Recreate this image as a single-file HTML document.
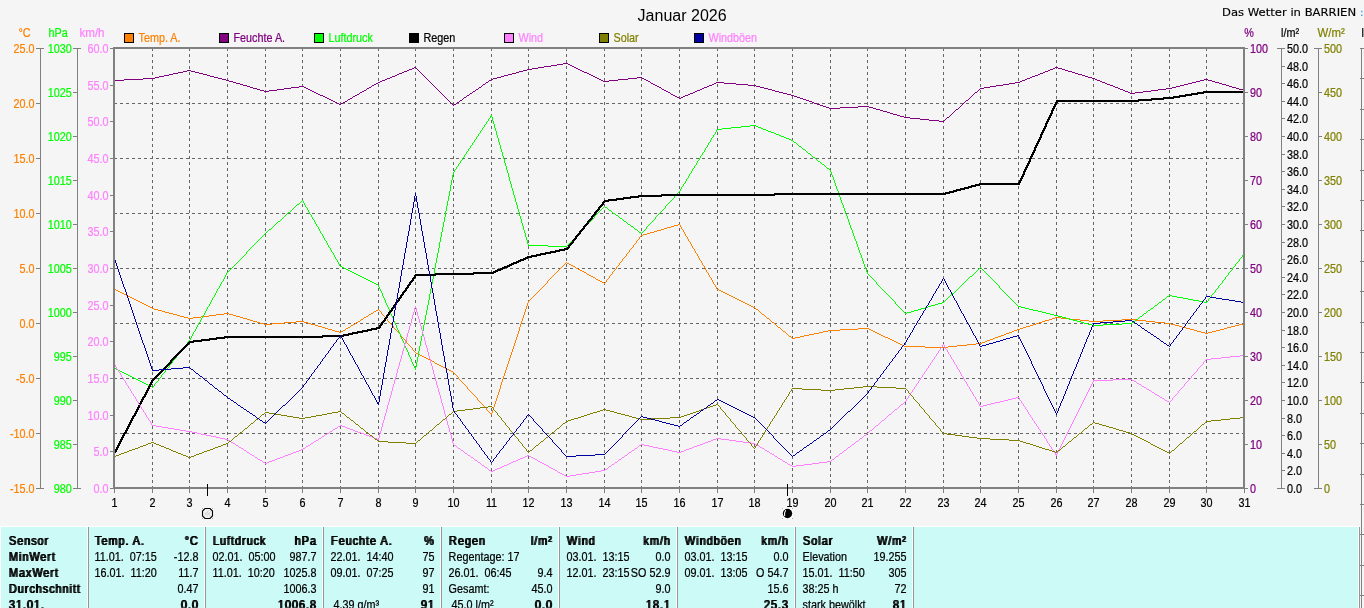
<!DOCTYPE html>
<html lang="de"><head><meta charset="utf-8"><title>Januar 2026 - Das Wetter in BARRIEN</title>
<style>
html,body{margin:0;padding:0;background:#f5f5f5;overflow:hidden;}
svg{display:block;will-change:transform;}
text{font-family:"Liberation Sans",Arial,sans-serif;white-space:pre;}
</style></head><body>
<svg width="1364" height="608" viewBox="0 0 1364 608" font-family="'Liberation Sans', Arial, sans-serif" font-size="12">
<defs><filter id="sb" x="-5%" y="-20%" width="110%" height="140%"><feOffset dx="1.05" dy="0" result="o"/><feMerge><feMergeNode in="SourceGraphic"/><feMergeNode in="o"/></feMerge></filter></defs>
<rect width="1364" height="608" fill="#f5f5f5"/>
<g stroke="#666666" stroke-width="1" stroke-dasharray="3 3" shape-rendering="crispEdges" fill="none">
<line x1="152.50" y1="48" x2="152.50" y2="487"/>
<line x1="189.50" y1="48" x2="189.50" y2="487"/>
<line x1="227.50" y1="48" x2="227.50" y2="487"/>
<line x1="265.50" y1="48" x2="265.50" y2="487"/>
<line x1="302.50" y1="48" x2="302.50" y2="487"/>
<line x1="340.50" y1="48" x2="340.50" y2="487"/>
<line x1="378.50" y1="48" x2="378.50" y2="487"/>
<line x1="415.50" y1="48" x2="415.50" y2="487"/>
<line x1="453.50" y1="48" x2="453.50" y2="487"/>
<line x1="491.50" y1="48" x2="491.50" y2="487"/>
<line x1="528.50" y1="48" x2="528.50" y2="487"/>
<line x1="566.50" y1="48" x2="566.50" y2="487"/>
<line x1="604.50" y1="48" x2="604.50" y2="487"/>
<line x1="641.50" y1="48" x2="641.50" y2="487"/>
<line x1="679.50" y1="48" x2="679.50" y2="487"/>
<line x1="717.50" y1="48" x2="717.50" y2="487"/>
<line x1="754.50" y1="48" x2="754.50" y2="487"/>
<line x1="792.50" y1="48" x2="792.50" y2="487"/>
<line x1="830.50" y1="48" x2="830.50" y2="487"/>
<line x1="867.50" y1="48" x2="867.50" y2="487"/>
<line x1="905.50" y1="48" x2="905.50" y2="487"/>
<line x1="943.50" y1="48" x2="943.50" y2="487"/>
<line x1="980.50" y1="48" x2="980.50" y2="487"/>
<line x1="1018.50" y1="48" x2="1018.50" y2="487"/>
<line x1="1056.50" y1="48" x2="1056.50" y2="487"/>
<line x1="1093.50" y1="48" x2="1093.50" y2="487"/>
<line x1="1131.50" y1="48" x2="1131.50" y2="487"/>
<line x1="1169.50" y1="48" x2="1169.50" y2="487"/>
<line x1="1206.50" y1="48" x2="1206.50" y2="487"/>
<line x1="114" y1="103.5" x2="1243" y2="103.5"/>
<line x1="114" y1="158.5" x2="1243" y2="158.5"/>
<line x1="114" y1="213.5" x2="1243" y2="213.5"/>
<line x1="114" y1="268.5" x2="1243" y2="268.5"/>
<line x1="114" y1="323.5" x2="1243" y2="323.5"/>
<line x1="114" y1="378.5" x2="1243" y2="378.5"/>
<line x1="114" y1="433.5" x2="1243" y2="433.5"/>
</g>
<path d="M678 224.5h2M674 225.5h4M671 226.5h3M667 227.5h4M664 228.5h3M661 229.5h3M657 230.5h4M654 231.5h3M650 232.5h4M647 233.5h3M643 234.5h4M641 235.5h2M567 263.5h2M569 264.5h2M571 265.5h2M573 266.5h2M576 268.5h2M578 269.5h2M580 270.5h2M582 271.5h2M584 272.5h2M587 274.5h2M589 275.5h2M591 276.5h2M593 277.5h2M596 279.5h2M598 280.5h2M600 281.5h2M602 282.5h2M114 289.5h2M717 289.5h2M116 290.5h2M719 290.5h2M118 291.5h2M721 291.5h2M120 292.5h2M723 292.5h2M122 293.5h2M725 293.5h2M124 294.5h2M727 294.5h2M126 295.5h2M729 295.5h2M128 296.5h2M731 296.5h2M130 297.5h2M733 297.5h2M132 298.5h2M735 298.5h2M134 299.5h2M737 299.5h2M136 300.5h2M739 300.5h2M138 301.5h2M741 301.5h2M140 302.5h2M743 302.5h2M142 303.5h2M745 303.5h2M144 304.5h2M747 304.5h2M146 305.5h2M749 305.5h2M148 306.5h2M751 306.5h2M150 307.5h2M753 307.5h2M152 308.5h2M154 309.5h4M756 309.5h2M158 310.5h4M376 310.5h2M162 311.5h3M374 311.5h2M165 312.5h4M169 313.5h4M224 313.5h5M371 313.5h2M173 314.5h4M216 314.5h8M229 314.5h4M369 314.5h2M762 314.5h2M177 315.5h3M209 315.5h7M233 315.5h3M180 316.5h4M201 316.5h8M236 316.5h4M366 316.5h2M184 317.5h4M193 317.5h8M240 317.5h3M364 317.5h2M1055 317.5h6M188 318.5h5M243 318.5h4M767 318.5h2M1052 318.5h3M1061 318.5h9M247 319.5h3M361 319.5h2M1049 319.5h3M1070 319.5h10M1122 319.5h14M250 320.5h3M1045 320.5h4M1080 320.5h9M1103 320.5h19M1136 320.5h10M253 321.5h4M296 321.5h8M358 321.5h2M1042 321.5h3M1089 321.5h14M1146 321.5h9M257 322.5h3M284 322.5h12M304 322.5h4M356 322.5h2M772 322.5h2M1039 322.5h3M1155 322.5h10M260 323.5h4M272 323.5h12M308 323.5h3M1036 323.5h3M1165 323.5h6M1243 323.5h2M264 324.5h8M311 324.5h4M353 324.5h2M1033 324.5h3M1171 324.5h4M1239 324.5h4M315 325.5h3M351 325.5h2M1030 325.5h3M1175 325.5h4M1235 325.5h4M318 326.5h4M1026 326.5h4M1179 326.5h3M1231 326.5h4M322 327.5h3M348 327.5h2M778 327.5h2M1023 327.5h3M1182 327.5h4M1227 327.5h4M325 328.5h3M346 328.5h2M858 328.5h11M1020 328.5h3M1186 328.5h4M1224 328.5h3M328 329.5h4M840 329.5h18M869 329.5h2M1017 329.5h3M1190 329.5h4M1220 329.5h4M332 330.5h3M343 330.5h2M828 330.5h12M871 330.5h2M1014 330.5h3M1194 330.5h3M1216 330.5h4M335 331.5h4M341 331.5h2M783 331.5h2M823 331.5h5M873 331.5h2M1012 331.5h2M1197 331.5h4M1212 331.5h4M339 332.5h2M819 332.5h4M875 332.5h2M1009 332.5h3M1201 332.5h4M1208 332.5h4M814 333.5h5M877 333.5h2M1006 333.5h3M1205 333.5h3M809 334.5h5M879 334.5h2M1004 334.5h2M804 335.5h5M881 335.5h2M1001 335.5h3M789 336.5h2M800 336.5h4M883 336.5h2M998 336.5h3M795 337.5h5M885 337.5h3M995 337.5h3M792 338.5h3M888 338.5h2M993 338.5h2M890 339.5h2M990 339.5h3M892 340.5h2M987 340.5h3M894 341.5h2M985 341.5h2M896 342.5h2M982 342.5h3M898 343.5h2M976 343.5h6M900 344.5h2M967 344.5h9M902 345.5h2M957 345.5h10M904 346.5h21M948 346.5h9M925 347.5h23M416 353.5h2M418 354.5h2M420 355.5h2M422 356.5h2M424 357.5h2M426 358.5h2M428 359.5h2M430 360.5h2M432 361.5h2M435 363.5h2M437 364.5h2M439 365.5h2M441 366.5h2M443 367.5h2M445 368.5h2M447 369.5h2M449 370.5h2M451 371.5h2M490 413.5h2M345.5 329v1M350.5 326v1M355.5 323v1M360.5 320v1M363.5 318v1M368.5 315v1M373.5 312v1M378.5 309v1M379.5 310v1M380.5 311v1M381.5 312v2M382.5 314v1M383.5 315v1M384.5 316v1M385.5 317v1M386.5 318v1M387.5 319v2M388.5 321v1M389.5 322v1M390.5 323v1M391.5 324v1M392.5 325v1M393.5 326v2M394.5 328v1M395.5 329v1M396.5 330v1M397.5 331v1M398.5 332v1M399.5 333v1M400.5 334v2M401.5 336v1M402.5 337v1M403.5 338v1M404.5 339v1M405.5 340v1M406.5 341v2M407.5 343v1M408.5 344v1M409.5 345v1M410.5 346v1M411.5 347v1M412.5 348v2M413.5 350v1M414.5 351v1M415.5 352v1M434.5 362v1M453.5 372v1M454.5 373v1M455.5 374v1M456.5 375v1M457.5 376v1M458.5 377v2M459.5 379v1M460.5 380v1M461.5 381v1M462.5 382v1M463.5 383v1M464.5 384v1M465.5 385v1M466.5 386v1M467.5 387v2M468.5 389v1M469.5 390v1M470.5 391v1M471.5 392v1M472.5 393v1M473.5 394v1M474.5 395v1M475.5 396v1M476.5 397v1M477.5 398v2M478.5 400v1M479.5 401v1M480.5 402v1M481.5 403v1M482.5 404v1M483.5 405v1M484.5 406v1M485.5 407v1M486.5 408v2M487.5 410v1M488.5 411v1M489.5 412v1M491.5 414v1M492.5 410v3M493.5 407v3M494.5 404v3M495.5 401v3M496.5 398v3M497.5 395v3M498.5 392v3M499.5 389v3M500.5 385v4M501.5 382v3M502.5 379v3M503.5 376v3M504.5 373v3M505.5 370v3M506.5 367v3M507.5 364v3M508.5 361v3M509.5 358v3M510.5 355v3M511.5 352v3M512.5 349v3M513.5 346v3M514.5 343v3M515.5 340v3M516.5 337v3M517.5 334v3M518.5 331v3M519.5 327v4M520.5 324v3M521.5 321v3M522.5 318v3M523.5 315v3M524.5 312v3M525.5 309v3M526.5 306v3M527.5 303v3M528.5 301v2M529.5 300v1M530.5 299v1M531.5 298v1M532.5 297v1M533.5 296v1M534.5 295v1M535.5 294v1M536.5 293v1M537.5 292v1M538.5 291v1M539.5 290v1M540.5 289v1M541.5 288v1M542.5 287v1M543.5 286v1M544.5 285v1M545.5 284v1M546.5 283v1M547.5 281v2M548.5 280v1M549.5 279v1M550.5 278v1M551.5 277v1M552.5 276v1M553.5 275v1M554.5 274v1M555.5 273v1M556.5 272v1M557.5 271v1M558.5 270v1M559.5 269v1M560.5 268v1M561.5 267v1M562.5 266v1M563.5 265v1M564.5 264v1M565.5 263v1M566.5 262v1M575.5 267v1M586.5 273v1M595.5 278v1M604.5 283v1M605.5 282v1M606.5 280v2M607.5 279v1M608.5 278v1M609.5 276v2M610.5 275v1M611.5 274v1M612.5 272v2M613.5 271v1M614.5 270v1M615.5 269v1M616.5 267v2M617.5 266v1M618.5 265v1M619.5 263v2M620.5 262v1M621.5 261v1M622.5 259v2M623.5 258v1M624.5 257v1M625.5 256v1M626.5 254v2M627.5 253v1M628.5 252v1M629.5 250v2M630.5 249v1M631.5 248v1M632.5 247v1M633.5 245v2M634.5 244v1M635.5 243v1M636.5 241v2M637.5 240v1M638.5 239v1M639.5 237v2M640.5 236v1M680.5 225v2M681.5 227v2M682.5 229v1M683.5 230v2M684.5 232v2M685.5 234v2M686.5 236v1M687.5 237v2M688.5 239v2M689.5 241v1M690.5 242v2M691.5 244v2M692.5 246v2M693.5 248v1M694.5 249v2M695.5 251v2M696.5 253v1M697.5 254v2M698.5 256v2M699.5 258v2M700.5 260v1M701.5 261v2M702.5 263v2M703.5 265v1M704.5 266v2M705.5 268v2M706.5 270v2M707.5 272v1M708.5 273v2M709.5 275v2M710.5 277v1M711.5 278v2M712.5 280v2M713.5 282v2M714.5 284v1M715.5 285v2M716.5 287v2M755.5 308v1M758.5 310v1M759.5 311v1M760.5 312v1M761.5 313v1M764.5 315v1M765.5 316v1M766.5 317v1M769.5 319v1M770.5 320v1M771.5 321v1M774.5 323v1M775.5 324v1M776.5 325v1M777.5 326v1M780.5 328v1M781.5 329v1M782.5 330v1M785.5 332v1M786.5 333v1M787.5 334v1M788.5 335v1M791.5 337v1" fill="none" stroke="#ff8000" stroke-width="1" shape-rendering="crispEdges"/>
<path d="M563 63.5h5M557 64.5h6M568 64.5h2M551 65.5h6M570 65.5h2M544 66.5h7M572 66.5h2M414 67.5h2M538 67.5h6M574 67.5h2M1055 67.5h3M412 68.5h2M532 68.5h6M576 68.5h2M1053 68.5h2M1058 68.5h4M409 69.5h3M527 69.5h5M578 69.5h2M1050 69.5h3M1062 69.5h3M187 70.5h4M407 70.5h2M523 70.5h4M580 70.5h2M1048 70.5h2M1065 70.5h3M183 71.5h4M191 71.5h4M404 71.5h3M519 71.5h4M582 71.5h2M1045 71.5h3M1068 71.5h4M178 72.5h5M195 72.5h4M402 72.5h2M516 72.5h3M584 72.5h3M1043 72.5h2M1072 72.5h3M173 73.5h5M199 73.5h4M399 73.5h3M512 73.5h4M587 73.5h2M1040 73.5h3M1075 73.5h3M169 74.5h4M203 74.5h4M397 74.5h2M508 74.5h4M589 74.5h2M1038 74.5h2M1078 74.5h4M164 75.5h5M207 75.5h3M395 75.5h2M504 75.5h4M591 75.5h2M1035 75.5h3M1082 75.5h3M159 76.5h5M210 76.5h4M392 76.5h3M501 76.5h3M593 76.5h2M1032 76.5h3M1085 76.5h3M155 77.5h4M214 77.5h4M390 77.5h2M497 77.5h4M595 77.5h2M637 77.5h5M1030 77.5h2M1088 77.5h4M143 78.5h12M218 78.5h4M387 78.5h3M493 78.5h4M597 78.5h2M628 78.5h9M642 78.5h2M1027 78.5h3M1092 78.5h3M124 79.5h19M222 79.5h4M385 79.5h2M491 79.5h2M599 79.5h2M618 79.5h10M644 79.5h2M1025 79.5h2M1095 79.5h2M1204 79.5h4M114 80.5h10M226 80.5h3M382 80.5h3M489 80.5h2M601 80.5h2M609 80.5h9M646 80.5h2M1022 80.5h3M1097 80.5h3M1200 80.5h4M1208 80.5h4M229 81.5h4M380 81.5h2M603 81.5h6M648 81.5h2M1020 81.5h2M1100 81.5h2M1196 81.5h4M1212 81.5h3M233 82.5h3M378 82.5h2M486 82.5h2M716 82.5h8M1015 82.5h5M1102 82.5h3M1192 82.5h4M1215 82.5h4M236 83.5h4M376 83.5h2M651 83.5h2M714 83.5h2M724 83.5h12M1009 83.5h6M1105 83.5h2M1188 83.5h4M1219 83.5h3M240 84.5h3M374 84.5h2M483 84.5h2M653 84.5h2M712 84.5h2M736 84.5h12M1003 84.5h6M1107 84.5h3M1184 84.5h4M1222 84.5h4M243 85.5h4M372 85.5h2M655 85.5h2M709 85.5h3M748 85.5h8M996 85.5h7M1110 85.5h3M1180 85.5h4M1226 85.5h3M247 86.5h3M299 86.5h5M657 86.5h2M707 86.5h2M756 86.5h4M990 86.5h6M1113 86.5h2M1176 86.5h4M1229 86.5h3M250 87.5h3M291 87.5h8M304 87.5h2M369 87.5h2M479 87.5h2M659 87.5h2M704 87.5h3M760 87.5h4M984 87.5h6M1115 87.5h3M1172 87.5h4M1232 87.5h4M253 88.5h4M284 88.5h7M306 88.5h2M367 88.5h2M702 88.5h2M764 88.5h4M980 88.5h4M1118 88.5h2M1166 88.5h6M1236 88.5h3M257 89.5h3M277 89.5h7M308 89.5h2M476 89.5h2M662 89.5h2M700 89.5h2M768 89.5h4M1120 89.5h3M1158 89.5h8M1239 89.5h4M260 90.5h4M269 90.5h8M310 90.5h2M364 90.5h2M664 90.5h2M697 90.5h3M772 90.5h3M1123 90.5h2M1151 90.5h7M1243 90.5h2M264 91.5h5M312 91.5h2M362 91.5h2M473 91.5h2M666 91.5h2M695 91.5h2M775 91.5h4M1125 91.5h3M1143 91.5h8M314 92.5h2M360 92.5h2M668 92.5h2M693 92.5h2M779 92.5h4M975 92.5h2M1128 92.5h2M1135 92.5h8M316 93.5h2M470 93.5h2M690 93.5h3M783 93.5h4M1130 93.5h5M318 94.5h2M357 94.5h2M671 94.5h2M688 94.5h2M787 94.5h4M320 95.5h3M355 95.5h2M467 95.5h2M673 95.5h2M685 95.5h3M791 95.5h3M323 96.5h2M353 96.5h2M675 96.5h2M683 96.5h2M794 96.5h3M325 97.5h2M464 97.5h2M677 97.5h2M681 97.5h2M797 97.5h3M327 98.5h2M350 98.5h2M679 98.5h2M800 98.5h3M329 99.5h2M348 99.5h2M803 99.5h3M331 100.5h2M460 100.5h2M806 100.5h3M966 100.5h2M333 101.5h2M345 101.5h2M809 101.5h3M335 102.5h2M343 102.5h2M457 102.5h2M812 102.5h2M337 103.5h2M341 103.5h2M814 103.5h3M339 104.5h2M454 104.5h2M817 104.5h3M820 105.5h3M823 106.5h3M858 106.5h11M826 107.5h3M840 107.5h18M869 107.5h4M829 108.5h11M873 108.5h3M876 109.5h4M956 109.5h2M880 110.5h3M883 111.5h4M887 112.5h3M890 113.5h3M893 114.5h4M897 115.5h3M900 116.5h4M904 117.5h6M947 117.5h2M910 118.5h10M920 119.5h9M929 120.5h10M939 121.5h5M347.5 100v1M352.5 97v1M359.5 93v1M366.5 89v1M371.5 86v1M416.5 68v1M417.5 69v1M418.5 70v1M419.5 71v1M420.5 72v1M421.5 73v1M422.5 74v1M423.5 75v1M424.5 76v1M425.5 77v1M426.5 78v1M427.5 79v1M428.5 80v1M429.5 81v1M430.5 82v1M431.5 83v1M432.5 84v1M433.5 85v1M434.5 86v1M435.5 87v1M436.5 88v1M437.5 89v1M438.5 90v1M439.5 91v1M440.5 92v1M441.5 93v1M442.5 94v1M443.5 95v1M444.5 96v1M445.5 97v1M446.5 98v1M447.5 99v1M448.5 100v1M449.5 101v1M450.5 102v1M451.5 103v1M452.5 104v1M453.5 105v1M456.5 103v1M459.5 101v1M462.5 99v1M463.5 98v1M466.5 96v1M469.5 94v1M472.5 92v1M475.5 90v1M478.5 88v1M481.5 86v1M482.5 85v1M485.5 83v1M488.5 81v1M650.5 82v1M661.5 88v1M670.5 93v1M944.5 120v1M945.5 119v1M946.5 118v1M949.5 116v1M950.5 115v1M951.5 114v1M952.5 113v1M953.5 112v1M954.5 111v1M955.5 110v1M958.5 108v1M959.5 107v1M960.5 106v1M961.5 105v1M962.5 104v1M963.5 103v1M964.5 102v1M965.5 101v1M968.5 99v1M969.5 98v1M970.5 97v1M971.5 96v1M972.5 95v1M973.5 94v1M974.5 93v1M977.5 91v1M978.5 90v1M979.5 89v1" fill="none" stroke="#800080" stroke-width="1" shape-rendering="crispEdges"/>
<path d="M490 116.5h2M750 125.5h6M741 126.5h9M756 126.5h2M731 127.5h10M758 127.5h3M722 128.5h9M761 128.5h2M717 129.5h5M763 129.5h3M766 130.5h2M768 131.5h3M771 132.5h3M774 133.5h2M776 134.5h3M779 135.5h2M781 136.5h3M784 137.5h2M786 138.5h3M789 139.5h2M791 140.5h2M794 142.5h2M799 146.5h2M803 149.5h2M808 153.5h2M813 157.5h2M818 161.5h2M822 164.5h2M827 168.5h2M297 204.5h2M605 207.5h2M609 210.5h2M288 212.5h2M613 213.5h2M616 215.5h2M620 218.5h2M278 221.5h2M624 221.5h2M628 224.5h2M631 226.5h2M269 229.5h2M635 229.5h2M639 232.5h2M528 245.5h20M548 246.5h19M340 266.5h2M342 267.5h2M344 268.5h2M346 269.5h2M348 270.5h2M350 271.5h2M352 272.5h2M354 273.5h2M356 274.5h2M358 275.5h2M360 276.5h2M970 276.5h2M362 277.5h2M364 278.5h2M366 279.5h2M368 280.5h2M370 281.5h2M372 282.5h2M374 283.5h2M376 284.5h2M952 293.5h2M1169 295.5h3M1167 296.5h2M1172 296.5h5M1177 297.5h6M1183 298.5h5M1163 299.5h2M1188 299.5h5M1193 300.5h6M1199 301.5h5M942 302.5h2M1159 302.5h2M1204 302.5h3M938 303.5h4M935 304.5h3M931 305.5h4M1155 305.5h2M928 306.5h3M1018 306.5h3M925 307.5h3M1021 307.5h4M921 308.5h4M1025 308.5h4M1151 308.5h2M918 309.5h3M1029 309.5h4M914 310.5h4M1033 310.5h5M1148 310.5h2M911 311.5h3M1038 311.5h4M907 312.5h4M1042 312.5h4M905 313.5h2M1046 313.5h4M1144 313.5h2M1050 314.5h4M1054 315.5h4M1058 316.5h4M1140 316.5h2M1062 317.5h4M1066 318.5h3M1069 319.5h4M1136 319.5h2M1073 320.5h4M1077 321.5h4M1081 322.5h3M1132 322.5h2M1084 323.5h4M1122 323.5h10M1088 324.5h4M1103 324.5h19M1092 325.5h11M414 367.5h2M114 368.5h2M116 369.5h2M118 370.5h2M120 371.5h2M122 372.5h2M124 373.5h2M126 374.5h2M128 375.5h2M130 376.5h2M132 377.5h2M134 378.5h2M136 379.5h2M138 380.5h2M140 381.5h2M142 382.5h2M144 383.5h2M146 384.5h2M148 385.5h2M150 386.5h2M152.5 387v1M153.5 386v1M154.5 384v2M155.5 383v1M156.5 382v1M157.5 381v1M158.5 379v2M159.5 378v1M160.5 377v1M161.5 375v2M162.5 374v1M163.5 373v1M164.5 372v1M165.5 370v2M166.5 369v1M167.5 368v1M168.5 367v1M169.5 365v2M170.5 364v1M171.5 363v1M172.5 361v2M173.5 360v1M174.5 359v1M175.5 358v1M176.5 356v2M177.5 355v1M178.5 354v1M179.5 353v1M180.5 351v2M181.5 350v1M182.5 349v1M183.5 347v2M184.5 346v1M185.5 345v1M186.5 344v1M187.5 342v2M188.5 341v1M189.5 340v1M190.5 338v2M191.5 336v2M192.5 334v2M193.5 332v2M194.5 331v1M195.5 329v2M196.5 327v2M197.5 325v2M198.5 323v2M199.5 322v1M200.5 320v2M201.5 318v2M202.5 316v2M203.5 315v1M204.5 313v2M205.5 311v2M206.5 309v2M207.5 307v2M208.5 306v1M209.5 304v2M210.5 302v2M211.5 300v2M212.5 298v2M213.5 297v1M214.5 295v2M215.5 293v2M216.5 291v2M217.5 289v2M218.5 288v1M219.5 286v2M220.5 284v2M221.5 282v2M222.5 281v1M223.5 279v2M224.5 277v2M225.5 275v2M226.5 273v2M227.5 272v1M228.5 271v1M229.5 270v1M230.5 269v1M231.5 268v1M232.5 267v1M233.5 266v1M234.5 265v1M235.5 264v1M236.5 263v1M237.5 262v1M238.5 261v1M239.5 260v1M240.5 259v1M241.5 258v1M242.5 257v1M243.5 256v1M244.5 255v1M245.5 254v1M246.5 252v2M247.5 251v1M248.5 250v1M249.5 249v1M250.5 248v1M251.5 247v1M252.5 246v1M253.5 245v1M254.5 244v1M255.5 243v1M256.5 242v1M257.5 241v1M258.5 240v1M259.5 239v1M260.5 238v1M261.5 237v1M262.5 236v1M263.5 235v1M264.5 234v1M265.5 233v1M266.5 232v1M267.5 231v1M268.5 230v1M271.5 228v1M272.5 227v1M273.5 226v1M274.5 225v1M275.5 224v1M276.5 223v1M277.5 222v1M280.5 220v1M281.5 219v1M282.5 218v1M283.5 217v1M284.5 216v1M285.5 215v1M286.5 214v1M287.5 213v1M290.5 211v1M291.5 210v1M292.5 209v1M293.5 208v1M294.5 207v1M295.5 206v1M296.5 205v1M299.5 203v1M300.5 202v1M301.5 201v1M302.5 200v1M303.5 201v2M304.5 203v2M305.5 205v2M306.5 207v1M307.5 208v2M308.5 210v2M309.5 212v2M310.5 214v1M311.5 215v2M312.5 217v2M313.5 219v1M314.5 220v2M315.5 222v2M316.5 224v2M317.5 226v1M318.5 227v2M319.5 229v2M320.5 231v2M321.5 233v1M322.5 234v2M323.5 236v2M324.5 238v2M325.5 240v1M326.5 241v2M327.5 243v2M328.5 245v2M329.5 247v1M330.5 248v2M331.5 250v2M332.5 252v1M333.5 253v2M334.5 255v2M335.5 257v2M336.5 259v1M337.5 260v2M338.5 262v2M339.5 264v2M378.5 285v2M379.5 287v2M380.5 289v2M381.5 291v2M382.5 293v3M383.5 296v2M384.5 298v2M385.5 300v3M386.5 303v2M387.5 305v2M388.5 307v2M389.5 309v3M390.5 312v2M391.5 314v2M392.5 316v2M393.5 318v3M394.5 321v2M395.5 323v2M396.5 325v3M397.5 328v2M398.5 330v2M399.5 332v2M400.5 334v3M401.5 337v2M402.5 339v2M403.5 341v2M404.5 343v3M405.5 346v2M406.5 348v2M407.5 350v2M408.5 352v3M409.5 355v2M410.5 357v2M411.5 359v3M412.5 362v2M413.5 364v2M414.5 366v1M415.5 368v2M416.5 362v5M417.5 357v5M418.5 351v6M419.5 346v5M420.5 341v5M421.5 336v5M422.5 331v5M423.5 325v6M424.5 320v5M425.5 315v5M426.5 310v5M427.5 305v5M428.5 300v5M429.5 294v6M430.5 289v5M431.5 284v5M432.5 279v5M433.5 274v5M434.5 268v6M435.5 263v5M436.5 258v5M437.5 253v5M438.5 248v5M439.5 242v6M440.5 237v5M441.5 232v5M442.5 227v5M443.5 222v5M444.5 217v5M445.5 211v6M446.5 206v5M447.5 201v5M448.5 196v5M449.5 191v5M450.5 185v6M451.5 180v5M452.5 175v5M453.5 172v3M454.5 170v2M455.5 169v1M456.5 167v2M457.5 166v1M458.5 164v2M459.5 163v1M460.5 161v2M461.5 160v1M462.5 158v2M463.5 157v1M464.5 155v2M465.5 154v1M466.5 152v2M467.5 151v1M468.5 149v2M469.5 148v1M470.5 146v2M471.5 145v1M472.5 143v2M473.5 142v1M474.5 140v2M475.5 139v1M476.5 137v2M477.5 136v1M478.5 134v2M479.5 133v1M480.5 131v2M481.5 130v1M482.5 128v2M483.5 127v1M484.5 125v2M485.5 124v1M486.5 122v2M487.5 121v1M488.5 119v2M489.5 118v1M490.5 117v1M491.5 115v1M492.5 117v4M493.5 121v3M494.5 124v4M495.5 128v3M496.5 131v4M497.5 135v3M498.5 138v4M499.5 142v3M500.5 145v4M501.5 149v3M502.5 152v4M503.5 156v3M504.5 159v4M505.5 163v3M506.5 166v4M507.5 170v3M508.5 173v4M509.5 177v4M510.5 181v3M511.5 184v4M512.5 188v3M513.5 191v4M514.5 195v3M515.5 198v4M516.5 202v3M517.5 205v4M518.5 209v3M519.5 212v4M520.5 216v3M521.5 219v4M522.5 223v3M523.5 226v4M524.5 230v3M525.5 233v4M526.5 237v3M527.5 240v4M528.5 244v1M567.5 245v1M568.5 244v1M569.5 243v1M570.5 242v1M571.5 241v1M572.5 240v1M573.5 239v1M574.5 238v1M575.5 236v2M576.5 235v1M577.5 234v1M578.5 233v1M579.5 232v1M580.5 231v1M581.5 230v1M582.5 229v1M583.5 228v1M584.5 227v1M585.5 226v1M586.5 225v1M587.5 224v1M588.5 223v1M589.5 222v1M590.5 221v1M591.5 220v1M592.5 219v1M593.5 218v1M594.5 216v2M595.5 215v1M596.5 214v1M597.5 213v1M598.5 212v1M599.5 211v1M600.5 210v1M601.5 209v1M602.5 208v1M603.5 207v1M604.5 206v1M607.5 208v1M608.5 209v1M611.5 211v1M612.5 212v1M615.5 214v1M618.5 216v1M619.5 217v1M622.5 219v1M623.5 220v1M626.5 222v1M627.5 223v1M630.5 225v1M633.5 227v1M634.5 228v1M637.5 230v1M638.5 231v1M641.5 233v1M642.5 232v1M643.5 231v1M644.5 230v1M645.5 229v1M646.5 227v2M647.5 226v1M648.5 225v1M649.5 224v1M650.5 223v1M651.5 222v1M652.5 221v1M653.5 220v1M654.5 219v1M655.5 217v2M656.5 216v1M657.5 215v1M658.5 214v1M659.5 213v1M660.5 212v1M661.5 211v1M662.5 210v1M663.5 209v1M664.5 208v1M665.5 206v2M666.5 205v1M667.5 204v1M668.5 203v1M669.5 202v1M670.5 201v1M671.5 200v1M672.5 199v1M673.5 198v1M674.5 196v2M675.5 195v1M676.5 194v1M677.5 193v1M678.5 192v1M679.5 191v1M680.5 189v2M681.5 187v2M682.5 186v1M683.5 184v2M684.5 183v1M685.5 181v2M686.5 179v2M687.5 178v1M688.5 176v2M689.5 174v2M690.5 173v1M691.5 171v2M692.5 169v2M693.5 168v1M694.5 166v2M695.5 165v1M696.5 163v2M697.5 161v2M698.5 160v1M699.5 158v2M700.5 156v2M701.5 155v1M702.5 153v2M703.5 152v1M704.5 150v2M705.5 148v2M706.5 147v1M707.5 145v2M708.5 143v2M709.5 142v1M710.5 140v2M711.5 138v2M712.5 137v1M713.5 135v2M714.5 134v1M715.5 132v2M716.5 130v2M793.5 141v1M796.5 143v1M797.5 144v1M798.5 145v1M801.5 147v1M802.5 148v1M805.5 150v1M806.5 151v1M807.5 152v1M810.5 154v1M811.5 155v1M812.5 156v1M815.5 158v1M816.5 159v1M817.5 160v1M820.5 162v1M821.5 163v1M824.5 165v1M825.5 166v1M826.5 167v1M829.5 169v1M830.5 170v2M831.5 172v3M832.5 175v2M833.5 177v3M834.5 180v3M835.5 183v3M836.5 186v3M837.5 189v2M838.5 191v3M839.5 194v3M840.5 197v3M841.5 200v3M842.5 203v2M843.5 205v3M844.5 208v3M845.5 211v3M846.5 214v2M847.5 216v3M848.5 219v3M849.5 222v3M850.5 225v3M851.5 228v2M852.5 230v3M853.5 233v3M854.5 236v3M855.5 239v2M856.5 241v3M857.5 244v3M858.5 247v3M859.5 250v3M860.5 253v2M861.5 255v3M862.5 258v3M863.5 261v3M864.5 264v3M865.5 267v2M866.5 269v3M867.5 272v2M868.5 274v1M869.5 275v1M870.5 276v1M871.5 277v1M872.5 278v1M873.5 279v1M874.5 280v1M875.5 281v1M876.5 282v2M877.5 284v1M878.5 285v1M879.5 286v1M880.5 287v1M881.5 288v1M882.5 289v1M883.5 290v1M884.5 291v1M885.5 292v1M886.5 293v1M887.5 294v1M888.5 295v1M889.5 296v1M890.5 297v1M891.5 298v1M892.5 299v1M893.5 300v1M894.5 301v1M895.5 302v2M896.5 304v1M897.5 305v1M898.5 306v1M899.5 307v1M900.5 308v1M901.5 309v1M902.5 310v1M903.5 311v1M904.5 312v1M944.5 301v1M945.5 300v1M946.5 299v1M947.5 298v1M948.5 297v1M949.5 296v1M950.5 295v1M951.5 294v1M954.5 292v1M955.5 291v1M956.5 290v1M957.5 289v1M958.5 288v1M959.5 287v1M960.5 286v1M961.5 285v1M962.5 284v1M963.5 283v1M964.5 282v1M965.5 281v1M966.5 280v1M967.5 279v1M968.5 278v1M969.5 277v1M972.5 275v1M973.5 274v1M974.5 273v1M975.5 272v1M976.5 271v1M977.5 270v1M978.5 269v1M979.5 268v1M980.5 267v1M981.5 268v1M982.5 269v1M983.5 270v1M984.5 271v1M985.5 272v1M986.5 273v1M987.5 274v1M988.5 275v1M989.5 276v1M990.5 277v1M991.5 278v1M992.5 279v1M993.5 280v1M994.5 281v1M995.5 282v1M996.5 283v1M997.5 284v1M998.5 285v1M999.5 286v2M1000.5 288v1M1001.5 289v1M1002.5 290v1M1003.5 291v1M1004.5 292v1M1005.5 293v1M1006.5 294v1M1007.5 295v1M1008.5 296v1M1009.5 297v1M1010.5 298v1M1011.5 299v1M1012.5 300v1M1013.5 301v1M1014.5 302v1M1015.5 303v1M1016.5 304v1M1017.5 305v1M1134.5 321v1M1135.5 320v1M1138.5 318v1M1139.5 317v1M1142.5 315v1M1143.5 314v1M1146.5 312v1M1147.5 311v1M1150.5 309v1M1153.5 307v1M1154.5 306v1M1157.5 304v1M1158.5 303v1M1161.5 301v1M1162.5 300v1M1165.5 298v1M1166.5 297v1M1207.5 301v1M1208.5 299v2M1209.5 298v1M1210.5 297v1M1211.5 295v2M1212.5 294v1M1213.5 293v1M1214.5 292v1M1215.5 290v2M1216.5 289v1M1217.5 288v1M1218.5 286v2M1219.5 285v1M1220.5 284v1M1221.5 283v1M1222.5 281v2M1223.5 280v1M1224.5 279v1M1225.5 277v2M1226.5 276v1M1227.5 275v1M1228.5 273v2M1229.5 272v1M1230.5 271v1M1231.5 270v1M1232.5 268v2M1233.5 267v1M1234.5 266v1M1235.5 264v2M1236.5 263v1M1237.5 262v1M1238.5 261v1M1239.5 259v2M1240.5 258v1M1241.5 257v1M1242.5 255v2M1243.5 254v1M1244.5 253v1" fill="none" stroke="#00ff00" stroke-width="1" shape-rendering="crispEdges"/>
<path d="M1203 91.5h42M1197 92.5h48M1191 93.5h13M1185 94.5h13M1179 95.5h13M1173 96.5h13M1163 97.5h17M1151 98.5h23M1138 99.5h26M1056 100.5h96M1056 101.5h83M1055 102.5h3M1055 103.5h2M1054 104.5h3M1054 105.5h2M1053 106.5h3M1053 107.5h2M1052 108.5h3M1052 109.5h2M1051 110.5h3M1051 111.5h2M1051 112.5h2M1050 113.5h3M1050 114.5h2M1049 115.5h3M1049 116.5h2M1048 117.5h3M1048 118.5h2M1047 119.5h3M1047 120.5h2M1046 121.5h3M1046 122.5h2M1045 123.5h3M1045 124.5h2M1045 125.5h2M1044 126.5h3M1044 127.5h2M1043 128.5h3M1043 129.5h2M1042 130.5h3M1042 131.5h2M1041 132.5h3M1041 133.5h2M1040 134.5h3M1040 135.5h2M1040 136.5h2M1039 137.5h3M1039 138.5h2M1038 139.5h3M1038 140.5h2M1037 141.5h3M1037 142.5h2M1036 143.5h3M1036 144.5h2M1035 145.5h3M1035 146.5h2M1034 147.5h3M1034 148.5h2M1034 149.5h2M1033 150.5h3M1033 151.5h2M1032 152.5h3M1032 153.5h2M1031 154.5h3M1031 155.5h2M1030 156.5h3M1030 157.5h2M1029 158.5h3M1029 159.5h2M1029 160.5h2M1028 161.5h3M1028 162.5h2M1027 163.5h3M1027 164.5h2M1026 165.5h3M1026 166.5h2M1025 167.5h3M1025 168.5h2M1024 169.5h3M1024 170.5h2M1023 171.5h3M1023 172.5h2M1023 173.5h2M1022 174.5h3M1022 175.5h2M1021 176.5h3M1021 177.5h2M1020 178.5h3M1020 179.5h2M1019 180.5h3M1019 181.5h2M1018 182.5h3M979 183.5h41M975 184.5h45M971 185.5h9M968 186.5h8M964 187.5h8M960 188.5h9M956 189.5h9M953 190.5h8M949 191.5h8M945 192.5h9M774 193.5h176M661 194.5h285M638 195.5h137M630 196.5h32M623 197.5h16M616 198.5h15M608 199.5h16M604 200.5h13M603 201.5h6M602 202.5h3M602 203.5h2M601 204.5h3M600 205.5h3M599 206.5h3M598 207.5h3M598 208.5h2M597 209.5h3M596 210.5h3M595 211.5h3M594 212.5h3M594 213.5h2M593 214.5h3M592 215.5h3M591 216.5h3M591 217.5h2M590 218.5h3M589 219.5h3M588 220.5h3M587 221.5h3M587 222.5h2M586 223.5h3M585 224.5h3M584 225.5h3M583 226.5h3M583 227.5h2M582 228.5h3M581 229.5h3M580 230.5h3M579 231.5h3M579 232.5h2M578 233.5h3M577 234.5h3M576 235.5h3M575 236.5h3M575 237.5h2M574 238.5h3M573 239.5h3M572 240.5h3M572 241.5h2M571 242.5h3M570 243.5h3M569 244.5h3M568 245.5h3M568 246.5h2M567 247.5h3M564 248.5h5M559 249.5h9M555 250.5h10M550 251.5h10M545 252.5h11M540 253.5h11M536 254.5h10M531 255.5h10M527 256.5h10M525 257.5h7M523 258.5h5M520 259.5h6M518 260.5h6M516 261.5h5M513 262.5h6M511 263.5h6M509 264.5h5M507 265.5h5M504 266.5h6M502 267.5h6M500 268.5h5M497 269.5h6M495 270.5h6M493 271.5h5M473 272.5h23M435 273.5h59M415 274.5h59M414 275.5h22M414 276.5h2M413 277.5h3M412 278.5h3M412 279.5h2M411 280.5h3M410 281.5h3M409 282.5h3M409 283.5h2M408 284.5h3M407 285.5h3M407 286.5h2M406 287.5h3M405 288.5h3M405 289.5h2M404 290.5h3M403 291.5h3M402 292.5h3M402 293.5h2M401 294.5h3M400 295.5h3M400 296.5h2M399 297.5h3M398 298.5h3M398 299.5h2M397 300.5h3M396 301.5h3M395 302.5h3M395 303.5h2M394 304.5h3M393 305.5h3M393 306.5h2M392 307.5h3M391 308.5h3M391 309.5h2M390 310.5h3M389 311.5h3M388 312.5h3M388 313.5h2M387 314.5h3M386 315.5h3M386 316.5h2M385 317.5h3M384 318.5h3M384 319.5h2M383 320.5h3M382 321.5h3M381 322.5h3M381 323.5h2M380 324.5h3M379 325.5h3M379 326.5h2M376 327.5h5M371 328.5h9M367 329.5h10M362 330.5h10M357 331.5h11M352 332.5h11M348 333.5h10M343 334.5h10M322 335.5h27M224 336.5h120M216 337.5h107M209 338.5h16M201 339.5h16M193 340.5h17M189 341.5h13M188 342.5h6M187 343.5h3M186 344.5h3M185 345.5h3M184 346.5h3M183 347.5h3M182 348.5h3M181 349.5h3M180 350.5h3M179 351.5h3M178 352.5h3M177 353.5h3M176 354.5h3M175 355.5h3M174 356.5h3M173 357.5h3M172 358.5h3M171 359.5h3M170 360.5h3M170 361.5h2M169 362.5h3M168 363.5h3M167 364.5h3M166 365.5h3M165 366.5h3M164 367.5h3M163 368.5h3M162 369.5h3M161 370.5h3M160 371.5h3M159 372.5h3M158 373.5h3M157 374.5h3M156 375.5h3M155 376.5h3M154 377.5h3M153 378.5h3M152 379.5h3M151 380.5h3M151 381.5h2M150 382.5h3M150 383.5h2M149 384.5h3M149 385.5h2M148 386.5h3M148 387.5h2M147 388.5h3M147 389.5h2M146 390.5h3M146 391.5h2M145 392.5h3M145 393.5h2M144 394.5h3M144 395.5h2M143 396.5h3M142 397.5h3M142 398.5h2M141 399.5h3M141 400.5h2M140 401.5h3M140 402.5h2M139 403.5h3M139 404.5h2M138 405.5h3M138 406.5h2M137 407.5h3M137 408.5h2M136 409.5h3M136 410.5h2M135 411.5h3M135 412.5h2M134 413.5h3M134 414.5h2M133 415.5h3M132 416.5h3M132 417.5h2M131 418.5h3M131 419.5h2M130 420.5h3M130 421.5h2M129 422.5h3M129 423.5h2M128 424.5h3M128 425.5h2M127 426.5h3M127 427.5h2M126 428.5h3M126 429.5h2M125 430.5h3M125 431.5h2M124 432.5h3M123 433.5h3M123 434.5h2M122 435.5h3M122 436.5h2M121 437.5h3M121 438.5h2M120 439.5h3M120 440.5h2M119 441.5h3M119 442.5h2M118 443.5h3M118 444.5h2M117 445.5h3M117 446.5h2M116 447.5h3M116 448.5h2M115 449.5h3M115 450.5h2M114 451.5h3M114 452.5h2" fill="none" stroke="#000000" stroke-width="1" shape-rendering="crispEdges"/>
<path d="M1240 355.5h5M1230 356.5h10M1221 357.5h9M1211 358.5h10M1206 359.5h5M1113 379.5h19M1093 380.5h20M1132 380.5h2M1134 381.5h2M1137 383.5h2M1139 384.5h2M1142 386.5h2M1144 387.5h2M1147 389.5h2M1149 390.5h2M1152 392.5h2M1155 394.5h2M1157 395.5h2M1016 397.5h3M1160 397.5h2M1012 398.5h4M1162 398.5h2M1008 399.5h4M1004 400.5h4M1165 400.5h2M1000 401.5h4M1167 401.5h2M995 402.5h5M991 403.5h4M901 404.5h2M987 404.5h4M983 405.5h4M980 406.5h3M895 409.5h2M889 414.5h2M882 420.5h2M152 425.5h4M340 425.5h2M876 425.5h2M156 426.5h6M338 426.5h2M342 426.5h3M162 427.5h6M345 427.5h2M168 428.5h6M335 428.5h2M347 428.5h3M174 429.5h6M333 429.5h2M350 429.5h3M180 430.5h6M353 430.5h2M870 430.5h2M186 431.5h6M330 431.5h2M355 431.5h3M192 432.5h5M358 432.5h3M197 433.5h4M327 433.5h2M361 433.5h3M201 434.5h5M325 434.5h2M364 434.5h2M206 435.5h5M366 435.5h3M864 435.5h2M211 436.5h5M322 436.5h2M369 436.5h3M216 437.5h4M372 437.5h2M220 438.5h5M319 438.5h2M374 438.5h3M716 438.5h5M860 438.5h2M225 439.5h3M377 439.5h2M713 439.5h3M721 439.5h8M228 440.5h2M316 440.5h2M711 440.5h2M729 440.5h7M314 441.5h2M708 441.5h3M736 441.5h7M856 441.5h2M231 442.5h2M705 442.5h3M743 442.5h8M233 443.5h2M311 443.5h2M703 443.5h2M751 443.5h4M641 444.5h3M700 444.5h3M755 444.5h2M852 444.5h2M236 445.5h2M308 445.5h2M454 445.5h2M639 445.5h2M644 445.5h5M697 445.5h3M757 445.5h2M306 446.5h2M649 446.5h4M694 446.5h3M239 447.5h2M653 447.5h5M692 447.5h2M760 447.5h2M848 447.5h2M241 448.5h2M303 448.5h2M458 448.5h2M635 448.5h2M658 448.5h5M689 448.5h3M762 448.5h2M301 449.5h2M663 449.5h5M686 449.5h3M244 450.5h2M299 450.5h2M461 450.5h2M632 450.5h2M668 450.5h4M684 450.5h2M765 450.5h2M844 450.5h2M296 451.5h3M672 451.5h5M681 451.5h3M767 451.5h2M247 452.5h2M293 452.5h3M629 452.5h2M677 452.5h4M291 453.5h2M465 453.5h2M770 453.5h2M840 453.5h2M250 454.5h2M288 454.5h3M772 454.5h2M1055 454.5h2M252 455.5h2M285 455.5h3M468 455.5h2M527 455.5h2M625 455.5h2M283 456.5h2M525 456.5h2M529 456.5h2M775 456.5h2M836 456.5h2M255 457.5h2M280 457.5h3M471 457.5h2M523 457.5h2M531 457.5h2M622 457.5h2M277 458.5h3M520 458.5h3M533 458.5h2M778 458.5h2M258 459.5h2M275 459.5h2M518 459.5h2M535 459.5h2M619 459.5h2M780 459.5h2M832 459.5h2M260 460.5h2M272 460.5h3M475 460.5h2M516 460.5h2M269 461.5h3M513 461.5h3M538 461.5h2M783 461.5h2M827 461.5h4M263 462.5h2M267 462.5h2M478 462.5h2M511 462.5h2M540 462.5h2M615 462.5h2M785 462.5h2M819 462.5h8M265 463.5h2M509 463.5h2M542 463.5h2M812 463.5h7M507 464.5h2M544 464.5h2M612 464.5h2M788 464.5h2M804 464.5h8M482 465.5h2M504 465.5h3M546 465.5h2M790 465.5h2M796 465.5h8M502 466.5h2M609 466.5h2M792 466.5h4M485 467.5h2M500 467.5h2M549 467.5h2M497 468.5h3M551 468.5h2M495 469.5h2M553 469.5h2M605 469.5h2M489 470.5h2M493 470.5h2M555 470.5h2M601 470.5h4M491 471.5h2M595 471.5h6M558 472.5h2M589 472.5h6M560 473.5h2M582 473.5h7M562 474.5h2M576 474.5h6M564 475.5h2M570 475.5h6M566 476.5h4M114.5 364v1M115.5 365v2M116.5 367v2M117.5 369v1M118.5 370v2M119.5 372v1M120.5 373v2M121.5 375v2M122.5 377v1M123.5 378v2M124.5 380v1M125.5 381v2M126.5 383v2M127.5 385v1M128.5 386v2M129.5 388v1M130.5 389v2M131.5 391v2M132.5 393v1M133.5 394v2M134.5 396v1M135.5 397v2M136.5 399v2M137.5 401v1M138.5 402v2M139.5 404v1M140.5 405v2M141.5 407v2M142.5 409v1M143.5 410v2M144.5 412v1M145.5 413v2M146.5 415v2M147.5 417v1M148.5 418v2M149.5 420v1M150.5 421v2M151.5 423v2M230.5 441v1M235.5 444v1M238.5 446v1M243.5 449v1M246.5 451v1M249.5 453v1M254.5 456v1M257.5 458v1M262.5 461v1M305.5 447v1M310.5 444v1M313.5 442v1M318.5 439v1M321.5 437v1M324.5 435v1M329.5 432v1M332.5 430v1M337.5 427v1M378.5 438v1M379.5 434v4M380.5 431v3M381.5 427v4M382.5 423v4M383.5 420v3M384.5 416v4M385.5 413v3M386.5 409v4M387.5 405v4M388.5 402v3M389.5 398v4M390.5 395v3M391.5 391v4M392.5 387v4M393.5 384v3M394.5 380v4M395.5 377v3M396.5 373v4M397.5 369v4M398.5 366v3M399.5 362v4M400.5 359v3M401.5 355v4M402.5 351v4M403.5 348v3M404.5 344v4M405.5 341v3M406.5 337v4M407.5 333v4M408.5 330v3M409.5 326v4M410.5 323v3M411.5 319v4M412.5 315v4M413.5 312v3M414.5 308v4M415.5 306v2M416.5 308v4M417.5 312v4M418.5 316v3M419.5 319v4M420.5 323v3M421.5 326v4M422.5 330v4M423.5 334v3M424.5 337v4M425.5 341v4M426.5 345v3M427.5 348v4M428.5 352v4M429.5 356v3M430.5 359v4M431.5 363v3M432.5 366v4M433.5 370v4M434.5 374v3M435.5 377v4M436.5 381v4M437.5 385v3M438.5 388v4M439.5 392v3M440.5 395v4M441.5 399v4M442.5 403v3M443.5 406v4M444.5 410v4M445.5 414v3M446.5 417v4M447.5 421v4M448.5 425v3M449.5 428v4M450.5 432v3M451.5 435v4M452.5 439v4M453.5 443v2M456.5 446v1M457.5 447v1M460.5 449v1M463.5 451v1M464.5 452v1M467.5 454v1M470.5 456v1M473.5 458v1M474.5 459v1M477.5 461v1M480.5 463v1M481.5 464v1M484.5 466v1M487.5 468v1M488.5 469v1M537.5 460v1M548.5 466v1M557.5 471v1M607.5 468v1M608.5 467v1M611.5 465v1M614.5 463v1M617.5 461v1M618.5 460v1M621.5 458v1M624.5 456v1M627.5 454v1M628.5 453v1M631.5 451v1M634.5 449v1M637.5 447v1M638.5 446v1M759.5 446v1M764.5 449v1M769.5 452v1M774.5 455v1M777.5 457v1M782.5 460v1M787.5 463v1M831.5 460v1M834.5 458v1M835.5 457v1M838.5 455v1M839.5 454v1M842.5 452v1M843.5 451v1M846.5 449v1M847.5 448v1M850.5 446v1M851.5 445v1M854.5 443v1M855.5 442v1M858.5 440v1M859.5 439v1M862.5 437v1M863.5 436v1M866.5 434v1M867.5 433v1M868.5 432v1M869.5 431v1M872.5 429v1M873.5 428v1M874.5 427v1M875.5 426v1M878.5 424v1M879.5 423v1M880.5 422v1M881.5 421v1M884.5 419v1M885.5 418v1M886.5 417v1M887.5 416v1M888.5 415v1M891.5 413v1M892.5 412v1M893.5 411v1M894.5 410v1M897.5 408v1M898.5 407v1M899.5 406v1M900.5 405v1M903.5 403v1M904.5 402v1M905.5 401v1M906.5 399v2M907.5 398v1M908.5 396v2M909.5 395v1M910.5 393v2M911.5 392v1M912.5 390v2M913.5 389v1M914.5 387v2M915.5 386v1M916.5 384v2M917.5 383v1M918.5 381v2M919.5 380v1M920.5 378v2M921.5 377v1M922.5 375v2M923.5 374v1M924.5 372v2M925.5 371v1M926.5 369v2M927.5 368v1M928.5 366v2M929.5 365v1M930.5 363v2M931.5 362v1M932.5 360v2M933.5 359v1M934.5 357v2M935.5 356v1M936.5 354v2M937.5 353v1M938.5 351v2M939.5 350v1M940.5 348v2M941.5 347v1M942.5 345v2M943.5 344v1M944.5 345v2M945.5 347v2M946.5 349v1M947.5 350v2M948.5 352v2M949.5 354v1M950.5 355v2M951.5 357v2M952.5 359v1M953.5 360v2M954.5 362v2M955.5 364v1M956.5 365v2M957.5 367v2M958.5 369v1M959.5 370v2M960.5 372v2M961.5 374v2M962.5 376v1M963.5 377v2M964.5 379v2M965.5 381v1M966.5 382v2M967.5 384v2M968.5 386v1M969.5 387v2M970.5 389v2M971.5 391v1M972.5 392v2M973.5 394v2M974.5 396v1M975.5 397v2M976.5 399v2M977.5 401v1M978.5 402v2M979.5 404v2M1019.5 398v2M1020.5 400v1M1021.5 401v2M1022.5 403v1M1023.5 404v2M1024.5 406v1M1025.5 407v2M1026.5 409v1M1027.5 410v2M1028.5 412v2M1029.5 414v1M1030.5 415v2M1031.5 417v1M1032.5 418v2M1033.5 420v1M1034.5 421v2M1035.5 423v1M1036.5 424v2M1037.5 426v1M1038.5 427v2M1039.5 429v1M1040.5 430v2M1041.5 432v1M1042.5 433v2M1043.5 435v1M1044.5 436v2M1045.5 438v1M1046.5 439v2M1047.5 441v2M1048.5 443v1M1049.5 444v2M1050.5 446v1M1051.5 447v2M1052.5 449v1M1053.5 450v2M1054.5 452v1M1055.5 453v1M1056.5 455v1M1057.5 452v2M1058.5 450v2M1059.5 448v2M1060.5 446v2M1061.5 444v2M1062.5 442v2M1063.5 440v2M1064.5 438v2M1065.5 436v2M1066.5 434v2M1067.5 432v2M1068.5 430v2M1069.5 428v2M1070.5 426v2M1071.5 424v2M1072.5 422v2M1073.5 420v2M1074.5 418v2M1075.5 416v2M1076.5 414v2M1077.5 412v2M1078.5 410v2M1079.5 408v2M1080.5 406v2M1081.5 404v2M1082.5 402v2M1083.5 400v2M1084.5 398v2M1085.5 396v2M1086.5 394v2M1087.5 392v2M1088.5 390v2M1089.5 388v2M1090.5 386v2M1091.5 384v2M1092.5 382v2M1093.5 381v1M1136.5 382v1M1141.5 385v1M1146.5 388v1M1151.5 391v1M1154.5 393v1M1159.5 396v1M1164.5 399v1M1169.5 402v1M1170.5 401v1M1171.5 400v1M1172.5 398v2M1173.5 397v1M1174.5 396v1M1175.5 395v1M1176.5 394v1M1177.5 393v1M1178.5 391v2M1179.5 390v1M1180.5 389v1M1181.5 388v1M1182.5 387v1M1183.5 386v1M1184.5 384v2M1185.5 383v1M1186.5 382v1M1187.5 381v1M1188.5 380v1M1189.5 379v1M1190.5 378v1M1191.5 376v2M1192.5 375v1M1193.5 374v1M1194.5 373v1M1195.5 372v1M1196.5 371v1M1197.5 369v2M1198.5 368v1M1199.5 367v1M1200.5 366v1M1201.5 365v1M1202.5 364v1M1203.5 362v2M1204.5 361v1M1205.5 360v1" fill="none" stroke="#ff80ff" stroke-width="1" shape-rendering="crispEdges"/>
<path d="M863 386.5h14M854 387.5h9M877 387.5h19M792 388.5h10M844 388.5h10M896 388.5h10M802 389.5h19M835 389.5h9M821 390.5h14M716 404.5h2M713 405.5h3M488 406.5h4M710 406.5h3M480 407.5h8M707 407.5h3M473 408.5h7M704 408.5h3M465 409.5h8M603 409.5h3M701 409.5h3M457 410.5h8M600 410.5h3M606 410.5h4M699 410.5h2M338 411.5h3M453 411.5h4M597 411.5h3M610 411.5h4M696 411.5h3M265 412.5h4M332 412.5h6M593 412.5h4M614 412.5h3M693 412.5h3M269 413.5h6M327 413.5h5M342 413.5h2M590 413.5h3M617 413.5h4M690 413.5h3M262 414.5h2M275 414.5h6M322 414.5h5M449 414.5h2M587 414.5h3M621 414.5h4M687 414.5h3M281 415.5h6M316 415.5h6M584 415.5h3M625 415.5h4M684 415.5h3M287 416.5h6M311 416.5h5M581 416.5h3M629 416.5h3M681 416.5h3M293 417.5h6M305 417.5h6M347 417.5h2M578 417.5h3M632 417.5h4M670 417.5h11M1240 417.5h5M299 418.5h6M574 418.5h4M636 418.5h4M651 418.5h19M1230 418.5h10M256 419.5h2M443 419.5h2M571 419.5h3M640 419.5h11M1221 419.5h9M351 420.5h2M568 420.5h3M1211 420.5h10M566 421.5h2M1206 421.5h5M1093 422.5h2M251 423.5h2M563 423.5h2M1095 423.5h4M356 424.5h2M437 424.5h2M1090 424.5h2M1099 424.5h3M1202 424.5h2M1102 425.5h4M1106 426.5h3M1109 427.5h4M245 428.5h2M361 428.5h2M557 428.5h2M1085 428.5h2M1113 428.5h3M1116 429.5h3M430 430.5h2M1119 430.5h4M1123 431.5h3M1194 431.5h2M240 432.5h2M366 432.5h2M552 432.5h2M1126 432.5h4M943 433.5h4M1079 433.5h2M1130 433.5h2M947 434.5h8M1132 434.5h2M370 435.5h2M424 435.5h2M955 435.5h7M1134 435.5h2M235 436.5h2M962 436.5h7M1136 436.5h2M546 437.5h2M969 437.5h8M1074 437.5h2M1138 437.5h2M1187 437.5h2M977 438.5h13M1140 438.5h2M375 439.5h2M990 439.5h19M1142 439.5h2M418 440.5h2M1009 440.5h11M1144 440.5h2M229 441.5h2M378 441.5h10M541 441.5h2M1020 441.5h3M1069 441.5h2M1146 441.5h2M151 442.5h3M388 442.5h18M1023 442.5h3M1148 442.5h2M148 443.5h3M154 443.5h2M226 443.5h2M406 443.5h10M1026 443.5h4M1180 443.5h2M146 444.5h2M156 444.5h3M223 444.5h3M1030 444.5h3M1151 444.5h2M143 445.5h3M159 445.5h2M221 445.5h2M536 445.5h2M1033 445.5h3M1153 445.5h2M140 446.5h3M161 446.5h3M218 446.5h3M1036 446.5h3M1063 446.5h2M1155 446.5h2M138 447.5h2M164 447.5h2M215 447.5h3M1039 447.5h3M1157 447.5h2M135 448.5h3M166 448.5h3M213 448.5h2M1042 448.5h3M1159 448.5h2M132 449.5h3M169 449.5h2M210 449.5h3M1045 449.5h4M1161 449.5h2M129 450.5h3M171 450.5h2M207 450.5h3M530 450.5h2M1049 450.5h3M1058 450.5h2M1163 450.5h2M1172 450.5h2M127 451.5h2M173 451.5h3M204 451.5h3M1052 451.5h3M1165 451.5h2M124 452.5h3M176 452.5h2M202 452.5h2M1055 452.5h2M1167 452.5h2M121 453.5h3M178 453.5h3M199 453.5h3M119 454.5h2M181 454.5h2M196 454.5h3M116 455.5h3M183 455.5h3M194 455.5h2M114 456.5h2M186 456.5h2M191 456.5h3M188 457.5h3M228.5 442v1M231.5 440v1M232.5 439v1M233.5 438v1M234.5 437v1M237.5 435v1M238.5 434v1M239.5 433v1M242.5 431v1M243.5 430v1M244.5 429v1M247.5 427v1M248.5 426v1M249.5 425v1M250.5 424v1M253.5 422v1M254.5 421v1M255.5 420v1M258.5 418v1M259.5 417v1M260.5 416v1M261.5 415v1M264.5 413v1M341.5 412v1M344.5 414v1M345.5 415v1M346.5 416v1M349.5 418v1M350.5 419v1M353.5 421v1M354.5 422v1M355.5 423v1M358.5 425v1M359.5 426v1M360.5 427v1M363.5 429v1M364.5 430v1M365.5 431v1M368.5 433v1M369.5 434v1M372.5 436v1M373.5 437v1M374.5 438v1M377.5 440v1M416.5 442v1M417.5 441v1M420.5 439v1M421.5 438v1M422.5 437v1M423.5 436v1M426.5 434v1M427.5 433v1M428.5 432v1M429.5 431v1M432.5 429v1M433.5 428v1M434.5 427v1M435.5 426v1M436.5 425v1M439.5 423v1M440.5 422v1M441.5 421v1M442.5 420v1M445.5 418v1M446.5 417v1M447.5 416v1M448.5 415v1M451.5 413v1M452.5 412v1M492.5 407v1M493.5 408v2M494.5 410v1M495.5 411v1M496.5 412v1M497.5 413v2M498.5 415v1M499.5 416v1M500.5 417v1M501.5 418v2M502.5 420v1M503.5 421v1M504.5 422v1M505.5 423v2M506.5 425v1M507.5 426v1M508.5 427v1M509.5 428v2M510.5 430v1M511.5 431v1M512.5 432v1M513.5 433v1M514.5 434v2M515.5 436v1M516.5 437v1M517.5 438v1M518.5 439v2M519.5 441v1M520.5 442v1M521.5 443v1M522.5 444v2M523.5 446v1M524.5 447v1M525.5 448v1M526.5 449v2M527.5 451v1M528.5 452v1M529.5 451v1M532.5 449v1M533.5 448v1M534.5 447v1M535.5 446v1M538.5 444v1M539.5 443v1M540.5 442v1M543.5 440v1M544.5 439v1M545.5 438v1M548.5 436v1M549.5 435v1M550.5 434v1M551.5 433v1M554.5 431v1M555.5 430v1M556.5 429v1M559.5 427v1M560.5 426v1M561.5 425v1M562.5 424v1M565.5 422v1M718.5 405v1M719.5 406v1M720.5 407v2M721.5 409v1M722.5 410v1M723.5 411v1M724.5 412v1M725.5 413v2M726.5 415v1M727.5 416v1M728.5 417v1M729.5 418v1M730.5 419v2M731.5 421v1M732.5 422v1M733.5 423v1M734.5 424v1M735.5 425v2M736.5 427v1M737.5 428v1M738.5 429v1M739.5 430v1M740.5 431v1M741.5 432v2M742.5 434v1M743.5 435v1M744.5 436v1M745.5 437v1M746.5 438v2M747.5 440v1M748.5 441v1M749.5 442v1M750.5 443v1M751.5 444v2M752.5 446v1M753.5 447v1M754.5 448v1M755.5 446v2M756.5 445v1M757.5 443v2M758.5 441v2M759.5 440v1M760.5 438v2M761.5 437v1M762.5 435v2M763.5 433v2M764.5 432v1M765.5 430v2M766.5 429v1M767.5 427v2M768.5 426v1M769.5 424v2M770.5 422v2M771.5 421v1M772.5 419v2M773.5 418v1M774.5 416v2M775.5 415v1M776.5 413v2M777.5 411v2M778.5 410v1M779.5 408v2M780.5 407v1M781.5 405v2M782.5 403v2M783.5 402v1M784.5 400v2M785.5 399v1M786.5 397v2M787.5 396v1M788.5 394v2M789.5 392v2M790.5 391v1M791.5 389v2M906.5 389v1M907.5 390v1M908.5 391v2M909.5 393v1M910.5 394v1M911.5 395v1M912.5 396v1M913.5 397v2M914.5 399v1M915.5 400v1M916.5 401v1M917.5 402v1M918.5 403v1M919.5 404v2M920.5 406v1M921.5 407v1M922.5 408v1M923.5 409v1M924.5 410v2M925.5 412v1M926.5 413v1M927.5 414v1M928.5 415v1M929.5 416v2M930.5 418v1M931.5 419v1M932.5 420v1M933.5 421v1M934.5 422v1M935.5 423v2M936.5 425v1M937.5 426v1M938.5 427v1M939.5 428v1M940.5 429v2M941.5 431v1M942.5 432v1M1057.5 451v1M1060.5 449v1M1061.5 448v1M1062.5 447v1M1065.5 445v1M1066.5 444v1M1067.5 443v1M1068.5 442v1M1071.5 440v1M1072.5 439v1M1073.5 438v1M1076.5 436v1M1077.5 435v1M1078.5 434v1M1081.5 432v1M1082.5 431v1M1083.5 430v1M1084.5 429v1M1087.5 427v1M1088.5 426v1M1089.5 425v1M1092.5 423v1M1150.5 443v1M1169.5 453v1M1170.5 452v1M1171.5 451v1M1174.5 449v1M1175.5 448v1M1176.5 447v1M1177.5 446v1M1178.5 445v1M1179.5 444v1M1182.5 442v1M1183.5 441v1M1184.5 440v1M1185.5 439v1M1186.5 438v1M1189.5 436v1M1190.5 435v1M1191.5 434v1M1192.5 433v1M1193.5 432v1M1196.5 430v1M1197.5 429v1M1198.5 428v1M1199.5 427v1M1200.5 426v1M1201.5 425v1M1204.5 423v1M1205.5 422v1" fill="none" stroke="#808000" stroke-width="1" shape-rendering="crispEdges"/>
<path d="M1206 296.5h4M1210 297.5h6M1216 298.5h6M1222 299.5h7M1229 300.5h6M1235 301.5h6M1241 302.5h4M1125 320.5h7M1113 321.5h12M1132 321.5h2M1100 322.5h13M1093 323.5h7M1135 323.5h2M1138 325.5h2M1142 328.5h2M1145 330.5h2M1148 332.5h2M1151 334.5h2M1017 335.5h2M1013 336.5h4M1154 336.5h2M1010 337.5h3M1006 338.5h4M1157 338.5h2M1003 339.5h3M1000 340.5h3M996 341.5h4M1161 341.5h2M993 342.5h3M989 343.5h4M1164 343.5h2M986 344.5h3M982 345.5h4M1167 345.5h2M980 346.5h2M183 367.5h7M171 368.5h12M159 369.5h12M191 369.5h2M152 370.5h7M196 373.5h2M200 376.5h2M205 380.5h2M210 384.5h2M215 388.5h2M219 391.5h2M224 395.5h2M228 398.5h2M717 399.5h2M231 400.5h2M715 400.5h2M719 400.5h2M721 401.5h2M234 402.5h2M377 402.5h2M723 402.5h2M377 403.5h2M711 403.5h2M725 403.5h2M727 404.5h2M238 405.5h2M283 405.5h2M708 405.5h2M729 405.5h2M731 406.5h2M241 407.5h2M733 407.5h2M704 408.5h2M735 408.5h2M244 409.5h2M737 409.5h2M701 410.5h2M739 410.5h2M247 411.5h2M741 411.5h2M848 411.5h2M743 412.5h2M250 413.5h2M697 413.5h2M745 413.5h2M747 414.5h2M253 415.5h2M694 415.5h2M749 415.5h2M641 416.5h2M751 416.5h2M643 417.5h4M691 417.5h2M753 417.5h2M257 418.5h2M647 418.5h4M651 419.5h4M260 420.5h2M655 420.5h4M687 420.5h2M659 421.5h3M263 422.5h2M662 422.5h4M684 422.5h2M666 423.5h4M670 424.5h4M674 425.5h4M680 425.5h2M678 426.5h2M828 430.5h2M824 433.5h2M821 435.5h2M817 438.5h2M814 440.5h2M810 443.5h2M807 445.5h2M804 447.5h2M800 450.5h2M797 452.5h2M595 454.5h10M576 455.5h19M793 455.5h2M566 456.5h10M114.5 258v2M115.5 260v3M116.5 263v3M117.5 266v3M118.5 269v3M119.5 272v3M120.5 275v3M121.5 278v3M122.5 281v3M123.5 284v3M124.5 287v2M125.5 289v3M126.5 292v3M127.5 295v3M128.5 298v3M129.5 301v3M130.5 304v3M131.5 307v3M132.5 310v3M133.5 313v3M134.5 316v3M135.5 319v3M136.5 322v3M137.5 325v3M138.5 328v3M139.5 331v3M140.5 334v3M141.5 337v3M142.5 340v3M143.5 343v2M144.5 345v3M145.5 348v3M146.5 351v3M147.5 354v3M148.5 357v3M149.5 360v3M150.5 363v3M151.5 366v3M152.5 369v1M190.5 368v1M193.5 370v1M194.5 371v1M195.5 372v1M198.5 374v1M199.5 375v1M202.5 377v1M203.5 378v1M204.5 379v1M207.5 381v1M208.5 382v1M209.5 383v1M212.5 385v1M213.5 386v1M214.5 387v1M217.5 389v1M218.5 390v1M221.5 392v1M222.5 393v1M223.5 394v1M226.5 396v1M227.5 397v1M230.5 399v1M233.5 401v1M236.5 403v1M237.5 404v1M240.5 406v1M243.5 408v1M246.5 410v1M249.5 412v1M252.5 414v1M255.5 416v1M256.5 417v1M259.5 419v1M262.5 421v1M265.5 423v1M266.5 422v1M267.5 421v1M268.5 420v1M269.5 419v1M270.5 418v1M271.5 417v1M272.5 416v1M273.5 415v1M274.5 414v1M275.5 413v1M276.5 412v1M277.5 411v1M278.5 410v1M279.5 409v1M280.5 408v1M281.5 407v1M282.5 406v1M285.5 404v1M286.5 403v1M287.5 402v1M288.5 401v1M289.5 400v1M290.5 399v1M291.5 398v1M292.5 397v1M293.5 396v1M294.5 395v1M295.5 394v1M296.5 393v1M297.5 392v1M298.5 391v1M299.5 390v1M300.5 389v1M301.5 388v1M302.5 387v1M303.5 385v2M304.5 384v1M305.5 383v1M306.5 381v2M307.5 380v1M308.5 379v1M309.5 377v2M310.5 376v1M311.5 374v2M312.5 373v1M313.5 372v1M314.5 370v2M315.5 369v1M316.5 368v1M317.5 366v2M318.5 365v1M319.5 364v1M320.5 362v2M321.5 361v1M322.5 359v2M323.5 358v1M324.5 357v1M325.5 355v2M326.5 354v1M327.5 353v1M328.5 351v2M329.5 350v1M330.5 348v2M331.5 347v1M332.5 346v1M333.5 344v2M334.5 343v1M335.5 342v1M336.5 340v2M337.5 339v1M338.5 338v1M339.5 336v2M340.5 335v1M341.5 336v2M342.5 338v2M343.5 340v2M344.5 342v2M345.5 344v1M346.5 345v2M347.5 347v2M348.5 349v2M349.5 351v2M350.5 353v2M351.5 355v1M352.5 356v2M353.5 358v2M354.5 360v2M355.5 362v2M356.5 364v1M357.5 365v2M358.5 367v2M359.5 369v2M360.5 371v2M361.5 373v2M362.5 375v1M363.5 376v2M364.5 378v2M365.5 380v2M366.5 382v2M367.5 384v1M368.5 385v2M369.5 387v2M370.5 389v2M371.5 391v2M372.5 393v2M373.5 395v1M374.5 396v2M375.5 398v2M376.5 400v2M378.5 404v1M379.5 396v6M380.5 390v6M381.5 385v5M382.5 379v6M383.5 373v6M384.5 367v6M385.5 362v5M386.5 356v6M387.5 350v6M388.5 345v5M389.5 339v6M390.5 333v6M391.5 328v5M392.5 322v6M393.5 316v6M394.5 310v6M395.5 305v5M396.5 299v6M397.5 293v6M398.5 288v5M399.5 282v6M400.5 276v6M401.5 270v6M402.5 265v5M403.5 259v6M404.5 253v6M405.5 248v5M406.5 242v6M407.5 236v6M408.5 231v5M409.5 225v6M410.5 219v6M411.5 213v6M412.5 208v5M413.5 202v6M414.5 196v6M415.5 193v3M416.5 196v6M417.5 202v6M418.5 208v5M419.5 213v6M420.5 219v6M421.5 225v6M422.5 231v5M423.5 236v6M424.5 242v6M425.5 248v5M426.5 253v6M427.5 259v6M428.5 265v6M429.5 271v5M430.5 276v6M431.5 282v6M432.5 288v5M433.5 293v6M434.5 299v6M435.5 305v6M436.5 311v5M437.5 316v6M438.5 322v6M439.5 328v5M440.5 333v6M441.5 339v6M442.5 345v6M443.5 351v5M444.5 356v6M445.5 362v6M446.5 368v5M447.5 373v6M448.5 379v6M449.5 385v6M450.5 391v5M451.5 396v6M452.5 402v6M453.5 408v3M454.5 411v2M455.5 413v1M456.5 414v1M457.5 415v2M458.5 417v1M459.5 418v1M460.5 419v2M461.5 421v1M462.5 422v2M463.5 424v1M464.5 425v1M465.5 426v2M466.5 428v1M467.5 429v1M468.5 430v2M469.5 432v1M470.5 433v1M471.5 434v2M472.5 436v1M473.5 437v2M474.5 439v1M475.5 440v1M476.5 441v2M477.5 443v1M478.5 444v1M479.5 445v2M480.5 447v1M481.5 448v2M482.5 450v1M483.5 451v1M484.5 452v2M485.5 454v1M486.5 455v1M487.5 456v2M488.5 458v1M489.5 459v1M490.5 460v2M491.5 462v1M492.5 461v1M493.5 459v2M494.5 458v1M495.5 457v1M496.5 455v2M497.5 454v1M498.5 453v1M499.5 451v2M500.5 450v1M501.5 449v1M502.5 448v1M503.5 446v2M504.5 445v1M505.5 444v1M506.5 442v2M507.5 441v1M508.5 440v1M509.5 438v2M510.5 437v1M511.5 436v1M512.5 435v1M513.5 433v2M514.5 432v1M515.5 431v1M516.5 429v2M517.5 428v1M518.5 427v1M519.5 426v1M520.5 424v2M521.5 423v1M522.5 422v1M523.5 420v2M524.5 419v1M525.5 418v1M526.5 416v2M527.5 415v1M528.5 414v1M529.5 415v1M530.5 416v1M531.5 417v1M532.5 418v1M533.5 419v2M534.5 421v1M535.5 422v1M536.5 423v1M537.5 424v1M538.5 425v1M539.5 426v1M540.5 427v1M541.5 428v1M542.5 429v2M543.5 431v1M544.5 432v1M545.5 433v1M546.5 434v1M547.5 435v1M548.5 436v1M549.5 437v1M550.5 438v1M551.5 439v1M552.5 440v2M553.5 442v1M554.5 443v1M555.5 444v1M556.5 445v1M557.5 446v1M558.5 447v1M559.5 448v1M560.5 449v1M561.5 450v2M562.5 452v1M563.5 453v1M564.5 454v1M565.5 455v1M605.5 453v1M606.5 452v1M607.5 451v1M608.5 450v1M609.5 449v1M610.5 448v1M611.5 447v1M612.5 446v1M613.5 445v1M614.5 444v1M615.5 443v1M616.5 442v1M617.5 441v1M618.5 440v1M619.5 439v1M620.5 438v1M621.5 437v1M622.5 435v2M623.5 434v1M624.5 433v1M625.5 432v1M626.5 431v1M627.5 430v1M628.5 429v1M629.5 428v1M630.5 427v1M631.5 426v1M632.5 425v1M633.5 424v1M634.5 423v1M635.5 422v1M636.5 421v1M637.5 420v1M638.5 419v1M639.5 418v1M640.5 417v1M682.5 424v1M683.5 423v1M686.5 421v1M689.5 419v1M690.5 418v1M693.5 416v1M696.5 414v1M699.5 412v1M700.5 411v1M703.5 409v1M706.5 407v1M707.5 406v1M710.5 404v1M713.5 402v1M714.5 401v1M755.5 418v1M756.5 419v1M757.5 420v1M758.5 421v1M759.5 422v1M760.5 423v1M761.5 424v1M762.5 425v1M763.5 426v1M764.5 427v1M765.5 428v1M766.5 429v1M767.5 430v1M768.5 431v1M769.5 432v1M770.5 433v1M771.5 434v1M772.5 435v1M773.5 436v2M774.5 438v1M775.5 439v1M776.5 440v1M777.5 441v1M778.5 442v1M779.5 443v1M780.5 444v1M781.5 445v1M782.5 446v1M783.5 447v1M784.5 448v1M785.5 449v1M786.5 450v1M787.5 451v1M788.5 452v1M789.5 453v1M790.5 454v1M791.5 455v1M792.5 456v1M795.5 454v1M796.5 453v1M799.5 451v1M802.5 449v1M803.5 448v1M806.5 446v1M809.5 444v1M812.5 442v1M813.5 441v1M816.5 439v1M819.5 437v1M820.5 436v1M823.5 434v1M826.5 432v1M827.5 431v1M830.5 429v1M831.5 428v1M832.5 427v1M833.5 426v1M834.5 425v1M835.5 424v1M836.5 423v1M837.5 422v1M838.5 421v1M839.5 420v1M840.5 419v1M841.5 418v1M842.5 417v1M843.5 416v1M844.5 415v1M845.5 414v1M846.5 413v1M847.5 412v1M850.5 410v1M851.5 409v1M852.5 408v1M853.5 407v1M854.5 406v1M855.5 405v1M856.5 404v1M857.5 403v1M858.5 402v1M859.5 401v1M860.5 400v1M861.5 399v1M862.5 398v1M863.5 397v1M864.5 396v1M865.5 395v1M866.5 394v1M867.5 393v1M868.5 391v2M869.5 390v1M870.5 389v1M871.5 387v2M872.5 386v1M873.5 385v1M874.5 383v2M875.5 382v1M876.5 381v1M877.5 379v2M878.5 378v1M879.5 377v1M880.5 375v2M881.5 374v1M882.5 373v1M883.5 371v2M884.5 370v1M885.5 369v1M886.5 367v2M887.5 366v1M888.5 365v1M889.5 363v2M890.5 362v1M891.5 361v1M892.5 359v2M893.5 358v1M894.5 357v1M895.5 355v2M896.5 354v1M897.5 353v1M898.5 351v2M899.5 350v1M900.5 349v1M901.5 347v2M902.5 346v1M903.5 345v1M904.5 343v2M905.5 342v1M906.5 340v2M907.5 338v2M908.5 337v1M909.5 335v2M910.5 333v2M911.5 332v1M912.5 330v2M913.5 328v2M914.5 326v2M915.5 325v1M916.5 323v2M917.5 321v2M918.5 320v1M919.5 318v2M920.5 316v2M921.5 315v1M922.5 313v2M923.5 311v2M924.5 310v1M925.5 308v2M926.5 306v2M927.5 305v1M928.5 303v2M929.5 301v2M930.5 300v1M931.5 298v2M932.5 296v2M933.5 294v2M934.5 293v1M935.5 291v2M936.5 289v2M937.5 288v1M938.5 286v2M939.5 284v2M940.5 283v1M941.5 281v2M942.5 279v2M943.5 278v1M944.5 279v2M945.5 281v2M946.5 283v2M947.5 285v2M948.5 287v2M949.5 289v1M950.5 290v2M951.5 292v2M952.5 294v2M953.5 296v2M954.5 298v2M955.5 300v1M956.5 301v2M957.5 303v2M958.5 305v2M959.5 307v2M960.5 309v2M961.5 311v2M962.5 313v1M963.5 314v2M964.5 316v2M965.5 318v2M966.5 320v2M967.5 322v2M968.5 324v1M969.5 325v2M970.5 327v2M971.5 329v2M972.5 331v2M973.5 333v2M974.5 335v1M975.5 336v2M976.5 338v2M977.5 340v2M978.5 342v2M979.5 344v2M1018.5 336v1M1019.5 337v2M1020.5 339v2M1021.5 341v2M1022.5 343v2M1023.5 345v2M1024.5 347v2M1025.5 349v2M1026.5 351v2M1027.5 353v2M1028.5 355v2M1029.5 357v2M1030.5 359v2M1031.5 361v3M1032.5 364v2M1033.5 366v2M1034.5 368v2M1035.5 370v2M1036.5 372v2M1037.5 374v2M1038.5 376v2M1039.5 378v2M1040.5 380v2M1041.5 382v2M1042.5 384v2M1043.5 386v3M1044.5 389v2M1045.5 391v2M1046.5 393v2M1047.5 395v2M1048.5 397v2M1049.5 399v2M1050.5 401v2M1051.5 403v2M1052.5 405v2M1053.5 407v2M1054.5 409v2M1055.5 411v2M1056.5 413v2M1057.5 411v2M1058.5 408v3M1059.5 406v2M1060.5 403v3M1061.5 401v2M1062.5 399v2M1063.5 396v3M1064.5 394v2M1065.5 391v3M1066.5 389v2M1067.5 386v3M1068.5 384v2M1069.5 381v3M1070.5 379v2M1071.5 376v3M1072.5 374v2M1073.5 371v3M1074.5 369v2M1075.5 367v2M1076.5 364v3M1077.5 362v2M1078.5 359v3M1079.5 357v2M1080.5 354v3M1081.5 352v2M1082.5 349v3M1083.5 347v2M1084.5 344v3M1085.5 342v2M1086.5 339v3M1087.5 337v2M1088.5 335v2M1089.5 332v3M1090.5 330v2M1091.5 327v3M1092.5 325v2M1093.5 324v1M1134.5 322v1M1137.5 324v1M1140.5 326v1M1141.5 327v1M1144.5 329v1M1147.5 331v1M1150.5 333v1M1153.5 335v1M1156.5 337v1M1159.5 339v1M1160.5 340v1M1163.5 342v1M1166.5 344v1M1169.5 346v1M1170.5 344v2M1171.5 343v1M1172.5 342v1M1173.5 340v2M1174.5 339v1M1175.5 338v1M1176.5 336v2M1177.5 335v1M1178.5 334v1M1179.5 332v2M1180.5 331v1M1181.5 330v1M1182.5 328v2M1183.5 327v1M1184.5 326v1M1185.5 324v2M1186.5 323v1M1187.5 321v2M1188.5 320v1M1189.5 319v1M1190.5 317v2M1191.5 316v1M1192.5 315v1M1193.5 313v2M1194.5 312v1M1195.5 311v1M1196.5 309v2M1197.5 308v1M1198.5 307v1M1199.5 305v2M1200.5 304v1M1201.5 303v1M1202.5 301v2M1203.5 300v1M1204.5 299v1M1205.5 297v2" fill="none" stroke="#0000a0" stroke-width="1" shape-rendering="crispEdges"/>
<rect x="113" y="47" width="1132" height="2" fill="#808080"/>
<rect x="113" y="487" width="1132" height="2" fill="#808080"/>
<rect x="113" y="47" width="2" height="442" fill="#808080"/>
<rect x="1243" y="47" width="2" height="442" fill="#808080"/>
<rect x="114" y="489" width="1" height="4" fill="#808080"/>
<text transform="translate(114.50,507.00) scale(0.9,1)" fill="#000" stroke="#000" stroke-width="0.22" text-anchor="middle" font-size="12">1</text>
<rect x="152" y="489" width="1" height="4" fill="#808080"/>
<text transform="translate(152.50,507.00) scale(0.9,1)" fill="#000" stroke="#000" stroke-width="0.22" text-anchor="middle" font-size="12">2</text>
<rect x="189" y="489" width="1" height="4" fill="#808080"/>
<text transform="translate(189.50,507.00) scale(0.9,1)" fill="#000" stroke="#000" stroke-width="0.22" text-anchor="middle" font-size="12">3</text>
<rect x="227" y="489" width="1" height="4" fill="#808080"/>
<text transform="translate(227.50,507.00) scale(0.9,1)" fill="#000" stroke="#000" stroke-width="0.22" text-anchor="middle" font-size="12">4</text>
<rect x="265" y="489" width="1" height="4" fill="#808080"/>
<text transform="translate(265.50,507.00) scale(0.9,1)" fill="#000" stroke="#000" stroke-width="0.22" text-anchor="middle" font-size="12">5</text>
<rect x="302" y="489" width="1" height="4" fill="#808080"/>
<text transform="translate(302.50,507.00) scale(0.9,1)" fill="#000" stroke="#000" stroke-width="0.22" text-anchor="middle" font-size="12">6</text>
<rect x="340" y="489" width="1" height="4" fill="#808080"/>
<text transform="translate(340.50,507.00) scale(0.9,1)" fill="#000" stroke="#000" stroke-width="0.22" text-anchor="middle" font-size="12">7</text>
<rect x="378" y="489" width="1" height="4" fill="#808080"/>
<text transform="translate(378.50,507.00) scale(0.9,1)" fill="#000" stroke="#000" stroke-width="0.22" text-anchor="middle" font-size="12">8</text>
<rect x="415" y="489" width="1" height="4" fill="#808080"/>
<text transform="translate(415.50,507.00) scale(0.9,1)" fill="#000" stroke="#000" stroke-width="0.22" text-anchor="middle" font-size="12">9</text>
<rect x="453" y="489" width="1" height="4" fill="#808080"/>
<text transform="translate(453.50,507.00) scale(0.9,1)" fill="#000" stroke="#000" stroke-width="0.22" text-anchor="middle" font-size="12">10</text>
<rect x="491" y="489" width="1" height="4" fill="#808080"/>
<text transform="translate(491.50,507.00) scale(0.9,1)" fill="#000" stroke="#000" stroke-width="0.22" text-anchor="middle" font-size="12">11</text>
<rect x="528" y="489" width="1" height="4" fill="#808080"/>
<text transform="translate(528.50,507.00) scale(0.9,1)" fill="#000" stroke="#000" stroke-width="0.22" text-anchor="middle" font-size="12">12</text>
<rect x="566" y="489" width="1" height="4" fill="#808080"/>
<text transform="translate(566.50,507.00) scale(0.9,1)" fill="#000" stroke="#000" stroke-width="0.22" text-anchor="middle" font-size="12">13</text>
<rect x="604" y="489" width="1" height="4" fill="#808080"/>
<text transform="translate(604.50,507.00) scale(0.9,1)" fill="#000" stroke="#000" stroke-width="0.22" text-anchor="middle" font-size="12">14</text>
<rect x="641" y="489" width="1" height="4" fill="#808080"/>
<text transform="translate(641.50,507.00) scale(0.9,1)" fill="#000" stroke="#000" stroke-width="0.22" text-anchor="middle" font-size="12">15</text>
<rect x="679" y="489" width="1" height="4" fill="#808080"/>
<text transform="translate(679.50,507.00) scale(0.9,1)" fill="#000" stroke="#000" stroke-width="0.22" text-anchor="middle" font-size="12">16</text>
<rect x="717" y="489" width="1" height="4" fill="#808080"/>
<text transform="translate(717.50,507.00) scale(0.9,1)" fill="#000" stroke="#000" stroke-width="0.22" text-anchor="middle" font-size="12">17</text>
<rect x="754" y="489" width="1" height="4" fill="#808080"/>
<text transform="translate(754.50,507.00) scale(0.9,1)" fill="#000" stroke="#000" stroke-width="0.22" text-anchor="middle" font-size="12">18</text>
<rect x="792" y="489" width="1" height="4" fill="#808080"/>
<text transform="translate(792.50,507.00) scale(0.9,1)" fill="#000" stroke="#000" stroke-width="0.22" text-anchor="middle" font-size="12">19</text>
<rect x="830" y="489" width="1" height="4" fill="#808080"/>
<text transform="translate(830.50,507.00) scale(0.9,1)" fill="#000" stroke="#000" stroke-width="0.22" text-anchor="middle" font-size="12">20</text>
<rect x="867" y="489" width="1" height="4" fill="#808080"/>
<text transform="translate(867.50,507.00) scale(0.9,1)" fill="#000" stroke="#000" stroke-width="0.22" text-anchor="middle" font-size="12">21</text>
<rect x="905" y="489" width="1" height="4" fill="#808080"/>
<text transform="translate(905.50,507.00) scale(0.9,1)" fill="#000" stroke="#000" stroke-width="0.22" text-anchor="middle" font-size="12">22</text>
<rect x="943" y="489" width="1" height="4" fill="#808080"/>
<text transform="translate(943.50,507.00) scale(0.9,1)" fill="#000" stroke="#000" stroke-width="0.22" text-anchor="middle" font-size="12">23</text>
<rect x="980" y="489" width="1" height="4" fill="#808080"/>
<text transform="translate(980.50,507.00) scale(0.9,1)" fill="#000" stroke="#000" stroke-width="0.22" text-anchor="middle" font-size="12">24</text>
<rect x="1018" y="489" width="1" height="4" fill="#808080"/>
<text transform="translate(1018.50,507.00) scale(0.9,1)" fill="#000" stroke="#000" stroke-width="0.22" text-anchor="middle" font-size="12">25</text>
<rect x="1056" y="489" width="1" height="4" fill="#808080"/>
<text transform="translate(1056.50,507.00) scale(0.9,1)" fill="#000" stroke="#000" stroke-width="0.22" text-anchor="middle" font-size="12">26</text>
<rect x="1093" y="489" width="1" height="4" fill="#808080"/>
<text transform="translate(1093.50,507.00) scale(0.9,1)" fill="#000" stroke="#000" stroke-width="0.22" text-anchor="middle" font-size="12">27</text>
<rect x="1131" y="489" width="1" height="4" fill="#808080"/>
<text transform="translate(1131.50,507.00) scale(0.9,1)" fill="#000" stroke="#000" stroke-width="0.22" text-anchor="middle" font-size="12">28</text>
<rect x="1169" y="489" width="1" height="4" fill="#808080"/>
<text transform="translate(1169.50,507.00) scale(0.9,1)" fill="#000" stroke="#000" stroke-width="0.22" text-anchor="middle" font-size="12">29</text>
<rect x="1206" y="489" width="1" height="4" fill="#808080"/>
<text transform="translate(1206.50,507.00) scale(0.9,1)" fill="#000" stroke="#000" stroke-width="0.22" text-anchor="middle" font-size="12">30</text>
<rect x="1244" y="489" width="1" height="4" fill="#808080"/>
<text transform="translate(1244.50,507.00) scale(0.9,1)" fill="#000" stroke="#000" stroke-width="0.22" text-anchor="middle" font-size="12">31</text>
<rect x="40" y="48" width="1" height="441" fill="#808080"/>
<rect x="36" y="48" width="8" height="1" fill="#808080"/>
<text transform="translate(34.60,52.50) scale(0.9,1)" fill="#ff8000" stroke="#ff8000" stroke-width="0.22" text-anchor="end" font-size="12">25.0</text>
<rect x="36" y="103" width="4" height="1" fill="#808080"/>
<text transform="translate(34.60,107.50) scale(0.9,1)" fill="#ff8000" stroke="#ff8000" stroke-width="0.22" text-anchor="end" font-size="12">20.0</text>
<rect x="36" y="158" width="4" height="1" fill="#808080"/>
<text transform="translate(34.60,162.50) scale(0.9,1)" fill="#ff8000" stroke="#ff8000" stroke-width="0.22" text-anchor="end" font-size="12">15.0</text>
<rect x="36" y="213" width="4" height="1" fill="#808080"/>
<text transform="translate(34.60,217.50) scale(0.9,1)" fill="#ff8000" stroke="#ff8000" stroke-width="0.22" text-anchor="end" font-size="12">10.0</text>
<rect x="36" y="268" width="4" height="1" fill="#808080"/>
<text transform="translate(34.60,272.50) scale(0.9,1)" fill="#ff8000" stroke="#ff8000" stroke-width="0.22" text-anchor="end" font-size="12">5.0</text>
<rect x="36" y="323" width="4" height="1" fill="#808080"/>
<text transform="translate(34.60,327.50) scale(0.9,1)" fill="#ff8000" stroke="#ff8000" stroke-width="0.22" text-anchor="end" font-size="12">0.0</text>
<rect x="36" y="378" width="4" height="1" fill="#808080"/>
<text transform="translate(34.60,382.50) scale(0.9,1)" fill="#ff8000" stroke="#ff8000" stroke-width="0.22" text-anchor="end" font-size="12">-5.0</text>
<rect x="36" y="433" width="4" height="1" fill="#808080"/>
<text transform="translate(34.60,437.50) scale(0.9,1)" fill="#ff8000" stroke="#ff8000" stroke-width="0.22" text-anchor="end" font-size="12">-10.0</text>
<rect x="36" y="488" width="8" height="1" fill="#808080"/>
<text transform="translate(34.60,492.50) scale(0.9,1)" fill="#ff8000" stroke="#ff8000" stroke-width="0.22" text-anchor="end" font-size="12">-15.0</text>
<text transform="translate(30.60,37.00) scale(0.9,1)" fill="#ff8000" stroke="#ff8000" stroke-width="0.22" text-anchor="end" font-size="12">°C</text>
<rect x="77" y="48" width="1" height="441" fill="#808080"/>
<rect x="73" y="48" width="8" height="1" fill="#808080"/>
<text transform="translate(71.80,52.50) scale(0.9,1)" fill="#00ff00" stroke="#00ff00" stroke-width="0.22" text-anchor="end" font-size="12">1030</text>
<rect x="73" y="92" width="4" height="1" fill="#808080"/>
<text transform="translate(71.80,96.50) scale(0.9,1)" fill="#00ff00" stroke="#00ff00" stroke-width="0.22" text-anchor="end" font-size="12">1025</text>
<rect x="73" y="136" width="4" height="1" fill="#808080"/>
<text transform="translate(71.80,140.50) scale(0.9,1)" fill="#00ff00" stroke="#00ff00" stroke-width="0.22" text-anchor="end" font-size="12">1020</text>
<rect x="73" y="180" width="4" height="1" fill="#808080"/>
<text transform="translate(71.80,184.50) scale(0.9,1)" fill="#00ff00" stroke="#00ff00" stroke-width="0.22" text-anchor="end" font-size="12">1015</text>
<rect x="73" y="224" width="4" height="1" fill="#808080"/>
<text transform="translate(71.80,228.50) scale(0.9,1)" fill="#00ff00" stroke="#00ff00" stroke-width="0.22" text-anchor="end" font-size="12">1010</text>
<rect x="73" y="268" width="4" height="1" fill="#808080"/>
<text transform="translate(71.80,272.50) scale(0.9,1)" fill="#00ff00" stroke="#00ff00" stroke-width="0.22" text-anchor="end" font-size="12">1005</text>
<rect x="73" y="312" width="4" height="1" fill="#808080"/>
<text transform="translate(71.80,316.50) scale(0.9,1)" fill="#00ff00" stroke="#00ff00" stroke-width="0.22" text-anchor="end" font-size="12">1000</text>
<rect x="73" y="356" width="4" height="1" fill="#808080"/>
<text transform="translate(71.80,360.50) scale(0.9,1)" fill="#00ff00" stroke="#00ff00" stroke-width="0.22" text-anchor="end" font-size="12">995</text>
<rect x="73" y="400" width="4" height="1" fill="#808080"/>
<text transform="translate(71.80,404.50) scale(0.9,1)" fill="#00ff00" stroke="#00ff00" stroke-width="0.22" text-anchor="end" font-size="12">990</text>
<rect x="73" y="444" width="4" height="1" fill="#808080"/>
<text transform="translate(71.80,448.50) scale(0.9,1)" fill="#00ff00" stroke="#00ff00" stroke-width="0.22" text-anchor="end" font-size="12">985</text>
<rect x="73" y="488" width="8" height="1" fill="#808080"/>
<text transform="translate(71.80,492.50) scale(0.9,1)" fill="#00ff00" stroke="#00ff00" stroke-width="0.22" text-anchor="end" font-size="12">980</text>
<text transform="translate(67.80,37.00) scale(0.9,1)" fill="#00ff00" stroke="#00ff00" stroke-width="0.22" text-anchor="end" font-size="12">hPa</text>
<rect x="110" y="48" width="3" height="1" fill="#808080"/>
<text transform="translate(108.60,52.50) scale(0.9,1)" fill="#ff80ff" stroke="#ff80ff" stroke-width="0.22" text-anchor="end" font-size="12">60.0</text>
<rect x="110" y="85" width="3" height="1" fill="#808080"/>
<text transform="translate(108.60,89.50) scale(0.9,1)" fill="#ff80ff" stroke="#ff80ff" stroke-width="0.22" text-anchor="end" font-size="12">55.0</text>
<rect x="110" y="121" width="3" height="1" fill="#808080"/>
<text transform="translate(108.60,125.50) scale(0.9,1)" fill="#ff80ff" stroke="#ff80ff" stroke-width="0.22" text-anchor="end" font-size="12">50.0</text>
<rect x="110" y="158" width="3" height="1" fill="#808080"/>
<text transform="translate(108.60,162.50) scale(0.9,1)" fill="#ff80ff" stroke="#ff80ff" stroke-width="0.22" text-anchor="end" font-size="12">45.0</text>
<rect x="110" y="195" width="3" height="1" fill="#808080"/>
<text transform="translate(108.60,199.50) scale(0.9,1)" fill="#ff80ff" stroke="#ff80ff" stroke-width="0.22" text-anchor="end" font-size="12">40.0</text>
<rect x="110" y="231" width="3" height="1" fill="#808080"/>
<text transform="translate(108.60,235.50) scale(0.9,1)" fill="#ff80ff" stroke="#ff80ff" stroke-width="0.22" text-anchor="end" font-size="12">35.0</text>
<rect x="110" y="268" width="3" height="1" fill="#808080"/>
<text transform="translate(108.60,272.50) scale(0.9,1)" fill="#ff80ff" stroke="#ff80ff" stroke-width="0.22" text-anchor="end" font-size="12">30.0</text>
<rect x="110" y="305" width="3" height="1" fill="#808080"/>
<text transform="translate(108.60,309.50) scale(0.9,1)" fill="#ff80ff" stroke="#ff80ff" stroke-width="0.22" text-anchor="end" font-size="12">25.0</text>
<rect x="110" y="341" width="3" height="1" fill="#808080"/>
<text transform="translate(108.60,345.50) scale(0.9,1)" fill="#ff80ff" stroke="#ff80ff" stroke-width="0.22" text-anchor="end" font-size="12">20.0</text>
<rect x="110" y="378" width="3" height="1" fill="#808080"/>
<text transform="translate(108.60,382.50) scale(0.9,1)" fill="#ff80ff" stroke="#ff80ff" stroke-width="0.22" text-anchor="end" font-size="12">15.0</text>
<rect x="110" y="415" width="3" height="1" fill="#808080"/>
<text transform="translate(108.60,419.50) scale(0.9,1)" fill="#ff80ff" stroke="#ff80ff" stroke-width="0.22" text-anchor="end" font-size="12">10.0</text>
<rect x="110" y="451" width="3" height="1" fill="#808080"/>
<text transform="translate(108.60,455.50) scale(0.9,1)" fill="#ff80ff" stroke="#ff80ff" stroke-width="0.22" text-anchor="end" font-size="12">5.0</text>
<rect x="110" y="488" width="3" height="1" fill="#808080"/>
<text transform="translate(108.60,492.50) scale(0.9,1)" fill="#ff80ff" stroke="#ff80ff" stroke-width="0.22" text-anchor="end" font-size="12">0.0</text>
<text transform="translate(104.60,37.00) scale(0.97,1)" fill="#ff80ff" stroke="#ff80ff" stroke-width="0.22" text-anchor="end" font-size="12">km/h</text>
<rect x="1245" y="48" width="3" height="1" fill="#808080"/>
<text transform="translate(1250.00,52.50) scale(0.9,1)" fill="#800080" stroke="#800080" stroke-width="0.22" text-anchor="start" font-size="12">100</text>
<rect x="1245" y="92" width="3" height="1" fill="#808080"/>
<text transform="translate(1250.00,96.50) scale(0.9,1)" fill="#800080" stroke="#800080" stroke-width="0.22" text-anchor="start" font-size="12">90</text>
<rect x="1245" y="136" width="3" height="1" fill="#808080"/>
<text transform="translate(1250.00,140.50) scale(0.9,1)" fill="#800080" stroke="#800080" stroke-width="0.22" text-anchor="start" font-size="12">80</text>
<rect x="1245" y="180" width="3" height="1" fill="#808080"/>
<text transform="translate(1250.00,184.50) scale(0.9,1)" fill="#800080" stroke="#800080" stroke-width="0.22" text-anchor="start" font-size="12">70</text>
<rect x="1245" y="224" width="3" height="1" fill="#808080"/>
<text transform="translate(1250.00,228.50) scale(0.9,1)" fill="#800080" stroke="#800080" stroke-width="0.22" text-anchor="start" font-size="12">60</text>
<rect x="1245" y="268" width="3" height="1" fill="#808080"/>
<text transform="translate(1250.00,272.50) scale(0.9,1)" fill="#800080" stroke="#800080" stroke-width="0.22" text-anchor="start" font-size="12">50</text>
<rect x="1245" y="312" width="3" height="1" fill="#808080"/>
<text transform="translate(1250.00,316.50) scale(0.9,1)" fill="#800080" stroke="#800080" stroke-width="0.22" text-anchor="start" font-size="12">40</text>
<rect x="1245" y="356" width="3" height="1" fill="#808080"/>
<text transform="translate(1250.00,360.50) scale(0.9,1)" fill="#800080" stroke="#800080" stroke-width="0.22" text-anchor="start" font-size="12">30</text>
<rect x="1245" y="400" width="3" height="1" fill="#808080"/>
<text transform="translate(1250.00,404.50) scale(0.9,1)" fill="#800080" stroke="#800080" stroke-width="0.22" text-anchor="start" font-size="12">20</text>
<rect x="1245" y="444" width="3" height="1" fill="#808080"/>
<text transform="translate(1250.00,448.50) scale(0.9,1)" fill="#800080" stroke="#800080" stroke-width="0.22" text-anchor="start" font-size="12">10</text>
<rect x="1245" y="488" width="3" height="1" fill="#808080"/>
<text transform="translate(1250.00,492.50) scale(0.9,1)" fill="#800080" stroke="#800080" stroke-width="0.22" text-anchor="start" font-size="12">0</text>
<text transform="translate(1244.30,37.00) scale(0.9,1)" fill="#800080" stroke="#800080" stroke-width="0.22" text-anchor="start" font-size="12">%</text>
<rect x="1281" y="48" width="1" height="441" fill="#808080"/>
<rect x="1277" y="48" width="8" height="1" fill="#808080"/>
<text transform="translate(1287.00,52.50) scale(0.9,1)" fill="#000000" stroke="#000000" stroke-width="0.22" text-anchor="start" font-size="12">50.0</text>
<rect x="1282" y="66" width="3" height="1" fill="#808080"/>
<text transform="translate(1287.00,70.50) scale(0.9,1)" fill="#000000" stroke="#000000" stroke-width="0.22" text-anchor="start" font-size="12">48.0</text>
<rect x="1282" y="83" width="3" height="1" fill="#808080"/>
<text transform="translate(1287.00,87.50) scale(0.9,1)" fill="#000000" stroke="#000000" stroke-width="0.22" text-anchor="start" font-size="12">46.0</text>
<rect x="1282" y="101" width="3" height="1" fill="#808080"/>
<text transform="translate(1287.00,105.50) scale(0.9,1)" fill="#000000" stroke="#000000" stroke-width="0.22" text-anchor="start" font-size="12">44.0</text>
<rect x="1282" y="118" width="3" height="1" fill="#808080"/>
<text transform="translate(1287.00,122.50) scale(0.9,1)" fill="#000000" stroke="#000000" stroke-width="0.22" text-anchor="start" font-size="12">42.0</text>
<rect x="1282" y="136" width="3" height="1" fill="#808080"/>
<text transform="translate(1287.00,140.50) scale(0.9,1)" fill="#000000" stroke="#000000" stroke-width="0.22" text-anchor="start" font-size="12">40.0</text>
<rect x="1282" y="154" width="3" height="1" fill="#808080"/>
<text transform="translate(1287.00,158.50) scale(0.9,1)" fill="#000000" stroke="#000000" stroke-width="0.22" text-anchor="start" font-size="12">38.0</text>
<rect x="1282" y="171" width="3" height="1" fill="#808080"/>
<text transform="translate(1287.00,175.50) scale(0.9,1)" fill="#000000" stroke="#000000" stroke-width="0.22" text-anchor="start" font-size="12">36.0</text>
<rect x="1282" y="189" width="3" height="1" fill="#808080"/>
<text transform="translate(1287.00,193.50) scale(0.9,1)" fill="#000000" stroke="#000000" stroke-width="0.22" text-anchor="start" font-size="12">34.0</text>
<rect x="1282" y="206" width="3" height="1" fill="#808080"/>
<text transform="translate(1287.00,210.50) scale(0.9,1)" fill="#000000" stroke="#000000" stroke-width="0.22" text-anchor="start" font-size="12">32.0</text>
<rect x="1282" y="224" width="3" height="1" fill="#808080"/>
<text transform="translate(1287.00,228.50) scale(0.9,1)" fill="#000000" stroke="#000000" stroke-width="0.22" text-anchor="start" font-size="12">30.0</text>
<rect x="1282" y="242" width="3" height="1" fill="#808080"/>
<text transform="translate(1287.00,246.50) scale(0.9,1)" fill="#000000" stroke="#000000" stroke-width="0.22" text-anchor="start" font-size="12">28.0</text>
<rect x="1282" y="259" width="3" height="1" fill="#808080"/>
<text transform="translate(1287.00,263.50) scale(0.9,1)" fill="#000000" stroke="#000000" stroke-width="0.22" text-anchor="start" font-size="12">26.0</text>
<rect x="1282" y="277" width="3" height="1" fill="#808080"/>
<text transform="translate(1287.00,281.50) scale(0.9,1)" fill="#000000" stroke="#000000" stroke-width="0.22" text-anchor="start" font-size="12">24.0</text>
<rect x="1282" y="294" width="3" height="1" fill="#808080"/>
<text transform="translate(1287.00,298.50) scale(0.9,1)" fill="#000000" stroke="#000000" stroke-width="0.22" text-anchor="start" font-size="12">22.0</text>
<rect x="1282" y="312" width="3" height="1" fill="#808080"/>
<text transform="translate(1287.00,316.50) scale(0.9,1)" fill="#000000" stroke="#000000" stroke-width="0.22" text-anchor="start" font-size="12">20.0</text>
<rect x="1282" y="330" width="3" height="1" fill="#808080"/>
<text transform="translate(1287.00,334.50) scale(0.9,1)" fill="#000000" stroke="#000000" stroke-width="0.22" text-anchor="start" font-size="12">18.0</text>
<rect x="1282" y="347" width="3" height="1" fill="#808080"/>
<text transform="translate(1287.00,351.50) scale(0.9,1)" fill="#000000" stroke="#000000" stroke-width="0.22" text-anchor="start" font-size="12">16.0</text>
<rect x="1282" y="365" width="3" height="1" fill="#808080"/>
<text transform="translate(1287.00,369.50) scale(0.9,1)" fill="#000000" stroke="#000000" stroke-width="0.22" text-anchor="start" font-size="12">14.0</text>
<rect x="1282" y="382" width="3" height="1" fill="#808080"/>
<text transform="translate(1287.00,386.50) scale(0.9,1)" fill="#000000" stroke="#000000" stroke-width="0.22" text-anchor="start" font-size="12">12.0</text>
<rect x="1282" y="400" width="3" height="1" fill="#808080"/>
<text transform="translate(1287.00,404.50) scale(0.9,1)" fill="#000000" stroke="#000000" stroke-width="0.22" text-anchor="start" font-size="12">10.0</text>
<rect x="1282" y="418" width="3" height="1" fill="#808080"/>
<text transform="translate(1287.00,422.50) scale(0.9,1)" fill="#000000" stroke="#000000" stroke-width="0.22" text-anchor="start" font-size="12">8.0</text>
<rect x="1282" y="435" width="3" height="1" fill="#808080"/>
<text transform="translate(1287.00,439.50) scale(0.9,1)" fill="#000000" stroke="#000000" stroke-width="0.22" text-anchor="start" font-size="12">6.0</text>
<rect x="1282" y="453" width="3" height="1" fill="#808080"/>
<text transform="translate(1287.00,457.50) scale(0.9,1)" fill="#000000" stroke="#000000" stroke-width="0.22" text-anchor="start" font-size="12">4.0</text>
<rect x="1282" y="470" width="3" height="1" fill="#808080"/>
<text transform="translate(1287.00,474.50) scale(0.9,1)" fill="#000000" stroke="#000000" stroke-width="0.22" text-anchor="start" font-size="12">2.0</text>
<rect x="1277" y="488" width="8" height="1" fill="#808080"/>
<text transform="translate(1287.00,492.50) scale(0.9,1)" fill="#000000" stroke="#000000" stroke-width="0.22" text-anchor="start" font-size="12">0.0</text>
<text transform="translate(1281.00,37.00) scale(0.9,1)" fill="#000000" stroke="#000000" stroke-width="0.22" text-anchor="start" font-size="12">l/m²</text>
<rect x="1318" y="48" width="1" height="441" fill="#808080"/>
<rect x="1314" y="48" width="8" height="1" fill="#808080"/>
<text transform="translate(1324.00,52.50) scale(0.9,1)" fill="#808000" stroke="#808000" stroke-width="0.22" text-anchor="start" font-size="12">500</text>
<rect x="1319" y="92" width="3" height="1" fill="#808080"/>
<text transform="translate(1324.00,96.50) scale(0.9,1)" fill="#808000" stroke="#808000" stroke-width="0.22" text-anchor="start" font-size="12">450</text>
<rect x="1319" y="136" width="3" height="1" fill="#808080"/>
<text transform="translate(1324.00,140.50) scale(0.9,1)" fill="#808000" stroke="#808000" stroke-width="0.22" text-anchor="start" font-size="12">400</text>
<rect x="1319" y="180" width="3" height="1" fill="#808080"/>
<text transform="translate(1324.00,184.50) scale(0.9,1)" fill="#808000" stroke="#808000" stroke-width="0.22" text-anchor="start" font-size="12">350</text>
<rect x="1319" y="224" width="3" height="1" fill="#808080"/>
<text transform="translate(1324.00,228.50) scale(0.9,1)" fill="#808000" stroke="#808000" stroke-width="0.22" text-anchor="start" font-size="12">300</text>
<rect x="1319" y="268" width="3" height="1" fill="#808080"/>
<text transform="translate(1324.00,272.50) scale(0.9,1)" fill="#808000" stroke="#808000" stroke-width="0.22" text-anchor="start" font-size="12">250</text>
<rect x="1319" y="312" width="3" height="1" fill="#808080"/>
<text transform="translate(1324.00,316.50) scale(0.9,1)" fill="#808000" stroke="#808000" stroke-width="0.22" text-anchor="start" font-size="12">200</text>
<rect x="1319" y="356" width="3" height="1" fill="#808080"/>
<text transform="translate(1324.00,360.50) scale(0.9,1)" fill="#808000" stroke="#808000" stroke-width="0.22" text-anchor="start" font-size="12">150</text>
<rect x="1319" y="400" width="3" height="1" fill="#808080"/>
<text transform="translate(1324.00,404.50) scale(0.9,1)" fill="#808000" stroke="#808000" stroke-width="0.22" text-anchor="start" font-size="12">100</text>
<rect x="1319" y="444" width="3" height="1" fill="#808080"/>
<text transform="translate(1324.00,448.50) scale(0.9,1)" fill="#808000" stroke="#808000" stroke-width="0.22" text-anchor="start" font-size="12">50</text>
<rect x="1314" y="488" width="8" height="1" fill="#808080"/>
<text transform="translate(1324.00,492.50) scale(0.9,1)" fill="#808000" stroke="#808000" stroke-width="0.22" text-anchor="start" font-size="12">0</text>
<text transform="translate(1317.50,37.00) scale(0.95,1)" fill="#808000" stroke="#808000" stroke-width="0.22" text-anchor="start" font-size="12">W/m²</text>
<rect x="1361" y="48" width="1" height="560" fill="#808080"/>
<rect x="1360" y="48" width="4" height="1" fill="#808080"/>
<rect x="1360" y="78" width="4" height="1" fill="#808080"/>
<rect x="1360" y="109" width="4" height="1" fill="#808080"/>
<rect x="1360" y="139" width="4" height="1" fill="#808080"/>
<rect x="1360" y="170" width="4" height="1" fill="#808080"/>
<rect x="1360" y="200" width="4" height="1" fill="#808080"/>
<rect x="1360" y="230" width="4" height="1" fill="#808080"/>
<rect x="1360" y="261" width="4" height="1" fill="#808080"/>
<rect x="1360" y="291" width="4" height="1" fill="#808080"/>
<rect x="1360" y="322" width="4" height="1" fill="#808080"/>
<rect x="1360" y="352" width="4" height="1" fill="#808080"/>
<rect x="1360" y="382" width="4" height="1" fill="#808080"/>
<rect x="1360" y="413" width="4" height="1" fill="#808080"/>
<rect x="1360" y="443" width="4" height="1" fill="#808080"/>
<rect x="1360" y="474" width="4" height="1" fill="#808080"/>
<rect x="1360" y="504" width="4" height="1" fill="#808080"/>
<rect x="1360" y="534" width="4" height="1" fill="#808080"/>
<rect x="1360" y="565" width="4" height="1" fill="#808080"/>
<rect x="1360" y="595" width="4" height="1" fill="#808080"/>
<text transform="translate(1361.60,37.00) scale(0.9,1)" fill="#000000" stroke="#000000" stroke-width="0.22" text-anchor="start" font-size="12">l/m²</text>
<text transform="translate(682.10,21.00) scale(1,1)" fill="#000" stroke="#000" stroke-width="0" text-anchor="middle" font-size="16">Januar 2026</text>
<text x="1222" y="16" style="font-family:'DejaVu Sans',Verdana,sans-serif" font-size="11" fill="#000" stroke="#000" stroke-width="0.15" textLength="145.6" lengthAdjust="spacingAndGlyphs">Das Wetter in BARRIEN <tspan fill="#3d9be9" stroke="#3d9be9">::</tspan></text>
<rect x="124.5" y="33.5" width="9" height="9" fill="#ff8000" stroke="#000" stroke-width="1" shape-rendering="crispEdges"/>
<text transform="translate(138.50,42.40) scale(0.9,1)" fill="#ff8000" stroke="#ff8000" stroke-width="0.22" text-anchor="start" font-size="12">Temp. A.</text>
<rect x="219.5" y="33.5" width="9" height="9" fill="#800080" stroke="#000" stroke-width="1" shape-rendering="crispEdges"/>
<text transform="translate(233.50,42.40) scale(0.9,1)" fill="#800080" stroke="#800080" stroke-width="0.22" text-anchor="start" font-size="12">Feuchte A.</text>
<rect x="314.5" y="33.5" width="9" height="9" fill="#00ff00" stroke="#000" stroke-width="1" shape-rendering="crispEdges"/>
<text transform="translate(328.50,42.40) scale(0.9,1)" fill="#00ff00" stroke="#00ff00" stroke-width="0.22" text-anchor="start" font-size="12">Luftdruck</text>
<rect x="409.5" y="33.5" width="9" height="9" fill="#000000" stroke="#000" stroke-width="1" shape-rendering="crispEdges"/>
<text transform="translate(423.50,42.40) scale(0.9,1)" fill="#000000" stroke="#000000" stroke-width="0.22" text-anchor="start" font-size="12">Regen</text>
<rect x="504.5" y="33.5" width="9" height="9" fill="#ff80ff" stroke="#000" stroke-width="1" shape-rendering="crispEdges"/>
<text transform="translate(518.50,42.40) scale(0.9,1)" fill="#ff80ff" stroke="#ff80ff" stroke-width="0.22" text-anchor="start" font-size="12">Wind</text>
<rect x="599.5" y="33.5" width="9" height="9" fill="#808000" stroke="#000" stroke-width="1" shape-rendering="crispEdges"/>
<text transform="translate(613.50,42.40) scale(0.9,1)" fill="#808000" stroke="#808000" stroke-width="0.22" text-anchor="start" font-size="12">Solar</text>
<rect x="694.5" y="33.5" width="9" height="9" fill="#0000a0" stroke="#000" stroke-width="1" shape-rendering="crispEdges"/>
<text transform="translate(708.50,42.40) scale(0.9,1)" fill="#ff80ff" stroke="#ff80ff" stroke-width="0.22" text-anchor="start" font-size="12">Windböen</text>
<rect x="207" y="484" width="1" height="12" fill="#000"/>
<rect x="202" y="508" width="11" height="11" fill="#fdfdfd"/>
<rect x="202" y="508" width="1" height="1" fill="#a8a8a8"/>
<rect x="212" y="508" width="1" height="1" fill="#a8a8a8"/>
<rect x="202" y="518" width="1" height="1" fill="#a8a8a8"/>
<rect x="212" y="518" width="1" height="1" fill="#a8a8a8"/>
<polygon points="205,508.5 210,508.5 212.5,511 212.5,516 210,518.5 205,518.5 202.5,516 202.5,511" fill="#f2f2f2" stroke="#000" stroke-width="1.1" stroke-linejoin="miter"/>
<path d="M 204.5 515.5 L 208.5 510.5 M 206.5 516.5 L 210.5 511.5 M 207.5 512.5 L 210.5 516.5 M 204.5 512.5 L 206.5 514.5" stroke="#c8c8c8" stroke-width="0.8" fill="none"/>
<rect x="787" y="484" width="1" height="12" fill="#000"/>
<rect x="782" y="508" width="11" height="11" fill="#fdfdfd"/>
<rect x="782" y="508" width="1" height="1" fill="#a8a8a8"/>
<rect x="792" y="508" width="1" height="1" fill="#a8a8a8"/>
<rect x="782" y="518" width="1" height="1" fill="#a8a8a8"/>
<rect x="792" y="518" width="1" height="1" fill="#a8a8a8"/>
<circle cx="787.5" cy="513.5" r="4.7" fill="#000"/>
<path d="M 785.7 510.3 Q 783.9 513.0 784.7 516.1" stroke="#ffffff" stroke-width="1.1" fill="none"/>
<rect x="0" y="526" width="1360" height="82" fill="#ffffff"/>
<rect x="1" y="527" width="1358" height="81" fill="#ccfaf7"/>
<rect x="87" y="526" width="1" height="82" fill="#f4ffff"/>
<rect x="88" y="527" width="1" height="81" fill="#989498"/>
<rect x="204" y="526" width="1" height="82" fill="#f4ffff"/>
<rect x="205" y="527" width="1" height="81" fill="#989498"/>
<rect x="322" y="526" width="1" height="82" fill="#f4ffff"/>
<rect x="323" y="527" width="1" height="81" fill="#989498"/>
<rect x="440" y="526" width="1" height="82" fill="#f4ffff"/>
<rect x="441" y="527" width="1" height="81" fill="#989498"/>
<rect x="558" y="526" width="1" height="82" fill="#f4ffff"/>
<rect x="559" y="527" width="1" height="81" fill="#989498"/>
<rect x="676" y="526" width="1" height="82" fill="#f4ffff"/>
<rect x="677" y="527" width="1" height="81" fill="#989498"/>
<rect x="794" y="526" width="1" height="82" fill="#f4ffff"/>
<rect x="795" y="527" width="1" height="81" fill="#989498"/>
<rect x="912" y="526" width="1" height="82" fill="#f4ffff"/>
<rect x="913" y="527" width="1" height="81" fill="#989498"/>
<rect x="1358" y="526" width="1" height="82" fill="#f4ffff"/>
<rect x="1359" y="527" width="1" height="81" fill="#989498"/>
<text transform="translate(8.50,545.00) scale(0.9,1)" fill="#000" stroke="#000" stroke-width="0.22" text-anchor="start" font-size="12" letter-spacing="1.11" filter="url(#sb)">Sensor</text>
<text transform="translate(8.50,561.00) scale(0.9,1)" fill="#000" stroke="#000" stroke-width="0.22" text-anchor="start" font-size="12" letter-spacing="1.11" filter="url(#sb)">MinWert</text>
<text transform="translate(8.50,577.00) scale(0.9,1)" fill="#000" stroke="#000" stroke-width="0.22" text-anchor="start" font-size="12" letter-spacing="1.11" filter="url(#sb)">MaxWert</text>
<text transform="translate(8.50,593.00) scale(0.9,1)" fill="#000" stroke="#000" stroke-width="0.22" text-anchor="start" font-size="12" letter-spacing="1.11" filter="url(#sb)">Durchschnitt</text>
<text transform="translate(8.50,609.00) scale(0.9,1)" fill="#000" stroke="#000" stroke-width="0.22" text-anchor="start" font-size="12" letter-spacing="1.11" filter="url(#sb)">31.01.</text>
<text transform="translate(94.50,545.00) scale(0.9,1)" fill="#000" stroke="#000" stroke-width="0.22" text-anchor="start" font-size="12" letter-spacing="1.11" filter="url(#sb)">Temp. A.</text>
<text transform="translate(198.40,545.00) scale(0.9,1)" fill="#000" stroke="#000" stroke-width="0.22" text-anchor="end" font-size="12" letter-spacing="1.11" filter="url(#sb)">°C</text>
<text transform="translate(94.50,561.00) scale(0.9,1)" fill="#000" stroke="#000" stroke-width="0.22" text-anchor="start" font-size="12">11.01.  07:15</text>
<text transform="translate(198.40,561.00) scale(0.9,1)" fill="#000" stroke="#000" stroke-width="0.22" text-anchor="end" font-size="12">-12.8</text>
<text transform="translate(94.50,577.00) scale(0.9,1)" fill="#000" stroke="#000" stroke-width="0.22" text-anchor="start" font-size="12">16.01.  11:20</text>
<text transform="translate(198.40,577.00) scale(0.9,1)" fill="#000" stroke="#000" stroke-width="0.22" text-anchor="end" font-size="12">11.7</text>
<text transform="translate(198.40,593.00) scale(0.9,1)" fill="#000" stroke="#000" stroke-width="0.22" text-anchor="end" font-size="12">0.47</text>
<text transform="translate(198.40,609.00) scale(0.9,1)" fill="#000" stroke="#000" stroke-width="0.22" text-anchor="end" font-size="12" letter-spacing="1.11" filter="url(#sb)">0.0</text>
<text transform="translate(212.60,545.00) scale(0.9,1)" fill="#000" stroke="#000" stroke-width="0.22" text-anchor="start" font-size="12" letter-spacing="1.11" filter="url(#sb)">Luftdruck</text>
<text transform="translate(316.40,545.00) scale(0.9,1)" fill="#000" stroke="#000" stroke-width="0.22" text-anchor="end" font-size="12" letter-spacing="1.11" filter="url(#sb)">hPa</text>
<text transform="translate(212.60,561.00) scale(0.9,1)" fill="#000" stroke="#000" stroke-width="0.22" text-anchor="start" font-size="12">02.01.  05:00</text>
<text transform="translate(316.40,561.00) scale(0.9,1)" fill="#000" stroke="#000" stroke-width="0.22" text-anchor="end" font-size="12">987.7</text>
<text transform="translate(212.60,577.00) scale(0.9,1)" fill="#000" stroke="#000" stroke-width="0.22" text-anchor="start" font-size="12">11.01.  10:20</text>
<text transform="translate(316.40,577.00) scale(0.9,1)" fill="#000" stroke="#000" stroke-width="0.22" text-anchor="end" font-size="12">1025.8</text>
<text transform="translate(316.40,593.00) scale(0.9,1)" fill="#000" stroke="#000" stroke-width="0.22" text-anchor="end" font-size="12">1006.3</text>
<text transform="translate(316.40,609.00) scale(0.9,1)" fill="#000" stroke="#000" stroke-width="0.22" text-anchor="end" font-size="12" letter-spacing="1.11" filter="url(#sb)">1006.8</text>
<text transform="translate(330.60,545.00) scale(0.9,1)" fill="#000" stroke="#000" stroke-width="0.22" text-anchor="start" font-size="12" letter-spacing="1.11" filter="url(#sb)">Feuchte A.</text>
<text transform="translate(434.40,545.00) scale(0.9,1)" fill="#000" stroke="#000" stroke-width="0.22" text-anchor="end" font-size="12" letter-spacing="1.11" filter="url(#sb)">%</text>
<text transform="translate(330.60,561.00) scale(0.9,1)" fill="#000" stroke="#000" stroke-width="0.22" text-anchor="start" font-size="12">22.01.  14:40</text>
<text transform="translate(434.40,561.00) scale(0.9,1)" fill="#000" stroke="#000" stroke-width="0.22" text-anchor="end" font-size="12">75</text>
<text transform="translate(330.60,577.00) scale(0.9,1)" fill="#000" stroke="#000" stroke-width="0.22" text-anchor="start" font-size="12">09.01.  07:25</text>
<text transform="translate(434.40,577.00) scale(0.9,1)" fill="#000" stroke="#000" stroke-width="0.22" text-anchor="end" font-size="12">97</text>
<text transform="translate(434.40,593.00) scale(0.9,1)" fill="#000" stroke="#000" stroke-width="0.22" text-anchor="end" font-size="12">91</text>
<text transform="translate(333.60,609.00) scale(0.9,1)" fill="#000" stroke="#000" stroke-width="0.22" text-anchor="start" font-size="12">4.39 g/m³</text>
<text transform="translate(434.40,609.00) scale(0.9,1)" fill="#000" stroke="#000" stroke-width="0.22" text-anchor="end" font-size="12" letter-spacing="1.11" filter="url(#sb)">91</text>
<text transform="translate(448.60,545.00) scale(0.9,1)" fill="#000" stroke="#000" stroke-width="0.22" text-anchor="start" font-size="12" letter-spacing="1.11" filter="url(#sb)">Regen</text>
<text transform="translate(552.40,545.00) scale(0.9,1)" fill="#000" stroke="#000" stroke-width="0.22" text-anchor="end" font-size="12" letter-spacing="1.11" filter="url(#sb)">l/m²</text>
<text transform="translate(448.60,561.00) scale(0.9,1)" fill="#000" stroke="#000" stroke-width="0.22" text-anchor="start" font-size="12">Regentage: 17</text>
<text transform="translate(448.60,577.00) scale(0.9,1)" fill="#000" stroke="#000" stroke-width="0.22" text-anchor="start" font-size="12">26.01.  06:45</text>
<text transform="translate(552.40,577.00) scale(0.9,1)" fill="#000" stroke="#000" stroke-width="0.22" text-anchor="end" font-size="12">9.4</text>
<text transform="translate(448.60,593.00) scale(0.9,1)" fill="#000" stroke="#000" stroke-width="0.22" text-anchor="start" font-size="12">Gesamt:</text>
<text transform="translate(552.40,593.00) scale(0.9,1)" fill="#000" stroke="#000" stroke-width="0.22" text-anchor="end" font-size="12">45.0</text>
<text transform="translate(451.60,609.00) scale(0.9,1)" fill="#000" stroke="#000" stroke-width="0.22" text-anchor="start" font-size="12">45.0 l/m²</text>
<text transform="translate(552.40,609.00) scale(0.9,1)" fill="#000" stroke="#000" stroke-width="0.22" text-anchor="end" font-size="12" letter-spacing="1.11" filter="url(#sb)">0.0</text>
<text transform="translate(566.60,545.00) scale(0.9,1)" fill="#000" stroke="#000" stroke-width="0.22" text-anchor="start" font-size="12" letter-spacing="1.11" filter="url(#sb)">Wind</text>
<text transform="translate(670.40,545.00) scale(0.9,1)" fill="#000" stroke="#000" stroke-width="0.22" text-anchor="end" font-size="12" letter-spacing="1.11" filter="url(#sb)">km/h</text>
<text transform="translate(566.60,561.00) scale(0.9,1)" fill="#000" stroke="#000" stroke-width="0.22" text-anchor="start" font-size="12">03.01.  13:15</text>
<text transform="translate(670.40,561.00) scale(0.9,1)" fill="#000" stroke="#000" stroke-width="0.22" text-anchor="end" font-size="12">0.0</text>
<text transform="translate(566.60,577.00) scale(0.9,1)" fill="#000" stroke="#000" stroke-width="0.22" text-anchor="start" font-size="12">12.01.  23:15</text>
<text transform="translate(670.40,577.00) scale(0.9,1)" fill="#000" stroke="#000" stroke-width="0.22" text-anchor="end" font-size="12">SO 52.9</text>
<text transform="translate(670.40,593.00) scale(0.9,1)" fill="#000" stroke="#000" stroke-width="0.22" text-anchor="end" font-size="12">9.0</text>
<text transform="translate(670.40,609.00) scale(0.9,1)" fill="#000" stroke="#000" stroke-width="0.22" text-anchor="end" font-size="12" letter-spacing="1.11" filter="url(#sb)">18.1</text>
<text transform="translate(684.60,545.00) scale(0.9,1)" fill="#000" stroke="#000" stroke-width="0.22" text-anchor="start" font-size="12" letter-spacing="1.11" filter="url(#sb)">Windböen</text>
<text transform="translate(788.40,545.00) scale(0.9,1)" fill="#000" stroke="#000" stroke-width="0.22" text-anchor="end" font-size="12" letter-spacing="1.11" filter="url(#sb)">km/h</text>
<text transform="translate(684.60,561.00) scale(0.9,1)" fill="#000" stroke="#000" stroke-width="0.22" text-anchor="start" font-size="12">03.01.  13:15</text>
<text transform="translate(788.40,561.00) scale(0.9,1)" fill="#000" stroke="#000" stroke-width="0.22" text-anchor="end" font-size="12">0.0</text>
<text transform="translate(684.60,577.00) scale(0.9,1)" fill="#000" stroke="#000" stroke-width="0.22" text-anchor="start" font-size="12">09.01.  13:05</text>
<text transform="translate(788.40,577.00) scale(0.9,1)" fill="#000" stroke="#000" stroke-width="0.22" text-anchor="end" font-size="12">O 54.7</text>
<text transform="translate(788.40,593.00) scale(0.9,1)" fill="#000" stroke="#000" stroke-width="0.22" text-anchor="end" font-size="12">15.6</text>
<text transform="translate(788.40,609.00) scale(0.9,1)" fill="#000" stroke="#000" stroke-width="0.22" text-anchor="end" font-size="12" letter-spacing="1.11" filter="url(#sb)">25.3</text>
<text transform="translate(802.60,545.00) scale(0.9,1)" fill="#000" stroke="#000" stroke-width="0.22" text-anchor="start" font-size="12" letter-spacing="1.11" filter="url(#sb)">Solar</text>
<text transform="translate(906.40,545.00) scale(0.9,1)" fill="#000" stroke="#000" stroke-width="0.22" text-anchor="end" font-size="12" letter-spacing="1.11" filter="url(#sb)">W/m²</text>
<text transform="translate(802.60,561.00) scale(0.9,1)" fill="#000" stroke="#000" stroke-width="0.22" text-anchor="start" font-size="12">Elevation</text>
<text transform="translate(906.40,561.00) scale(0.9,1)" fill="#000" stroke="#000" stroke-width="0.22" text-anchor="end" font-size="12">19.255</text>
<text transform="translate(802.60,577.00) scale(0.9,1)" fill="#000" stroke="#000" stroke-width="0.22" text-anchor="start" font-size="12">15.01.  11:50</text>
<text transform="translate(906.40,577.00) scale(0.9,1)" fill="#000" stroke="#000" stroke-width="0.22" text-anchor="end" font-size="12">305</text>
<text transform="translate(802.60,593.00) scale(0.9,1)" fill="#000" stroke="#000" stroke-width="0.22" text-anchor="start" font-size="12">38:25 h</text>
<text transform="translate(906.40,593.00) scale(0.9,1)" fill="#000" stroke="#000" stroke-width="0.22" text-anchor="end" font-size="12">72</text>
<text transform="translate(802.60,609.00) scale(0.9,1)" fill="#000" stroke="#000" stroke-width="0.22" text-anchor="start" font-size="12">stark bewölkt</text>
<text transform="translate(906.40,609.00) scale(0.9,1)" fill="#000" stroke="#000" stroke-width="0.22" text-anchor="end" font-size="12" letter-spacing="1.11" filter="url(#sb)">81</text>
</svg>
</body></html>
